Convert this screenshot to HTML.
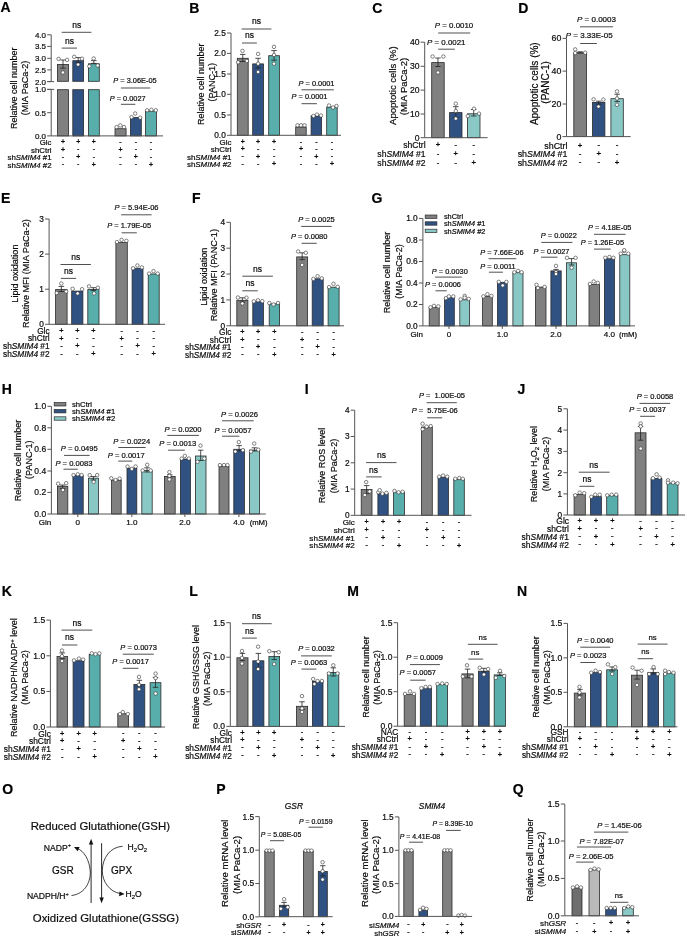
<!DOCTYPE html>
<html><head><meta charset="utf-8"><style>
html,body{margin:0;padding:0;background:#fff;width:685px;height:936px;overflow:hidden}
svg{display:block;font-family:"Liberation Sans", sans-serif;filter:blur(0.35px)}
text{stroke:#000;stroke-width:0.2px}
</style></head><body>
<svg width="685" height="936" viewBox="0 0 685 936" font-family='"Liberation Sans", sans-serif'>
<rect width="685" height="936" fill="#fff"/>
<text x="0.50" y="11.50" font-size="14" font-weight="bold" fill="#000">A</text>
<line x1="51.20" y1="34.80" x2="51.20" y2="81.60" stroke="#555" stroke-width="1"/>
<line x1="47.20" y1="34.80" x2="51.20" y2="34.80" stroke="#555" stroke-width="1"/>
<text x="46.00" y="37.70" font-size="8" text-anchor="end" fill="#111">4.0</text>
<line x1="47.20" y1="46.40" x2="51.20" y2="46.40" stroke="#555" stroke-width="1"/>
<text x="46.00" y="49.30" font-size="8" text-anchor="end" fill="#111">3.5</text>
<line x1="47.20" y1="58.30" x2="51.20" y2="58.30" stroke="#555" stroke-width="1"/>
<text x="46.00" y="61.20" font-size="8" text-anchor="end" fill="#111">3.0</text>
<line x1="47.20" y1="69.90" x2="51.20" y2="69.90" stroke="#555" stroke-width="1"/>
<text x="46.00" y="72.80" font-size="8" text-anchor="end" fill="#111">2.5</text>
<line x1="47.20" y1="81.60" x2="51.20" y2="81.60" stroke="#555" stroke-width="1"/>
<text x="46.00" y="84.50" font-size="8" text-anchor="end" fill="#111">2.0</text>
<line x1="47.20" y1="81.60" x2="54.20" y2="81.60" stroke="#555" stroke-width="1"/>
<line x1="51.20" y1="89.40" x2="51.20" y2="135.90" stroke="#555" stroke-width="1"/>
<line x1="47.20" y1="89.40" x2="51.20" y2="89.40" stroke="#555" stroke-width="1"/>
<text x="46.00" y="92.30" font-size="8" text-anchor="end" fill="#111">1.0</text>
<line x1="47.20" y1="112.70" x2="51.20" y2="112.70" stroke="#555" stroke-width="1"/>
<text x="46.00" y="115.60" font-size="8" text-anchor="end" fill="#111">0.5</text>
<line x1="47.20" y1="135.90" x2="51.20" y2="135.90" stroke="#555" stroke-width="1"/>
<text x="46.00" y="138.80" font-size="8" text-anchor="end" fill="#111">0.0</text>
<line x1="47.20" y1="89.40" x2="54.20" y2="89.40" stroke="#555" stroke-width="1"/>
<text x="16.95" y="88.30" font-size="9.0" text-anchor="middle" transform="rotate(-90 16.95 88.30)" fill="#111">Relative cell number</text>
<text x="27.65" y="88.00" font-size="9.0" text-anchor="middle" transform="rotate(-90 27.65 88.00)" fill="#111">(MIA PaCa-2)</text>
<rect x="57.50" y="64.50" width="11.00" height="16.80" fill="#808080" stroke="#2a2a2a" stroke-width="0.8"/>
<rect x="57.50" y="89.70" width="11.00" height="46.20" fill="#808080" stroke="#2a2a2a" stroke-width="0.8"/>
<rect x="72.80" y="60.70" width="10.80" height="20.60" fill="#2f5283" stroke="#2a2a2a" stroke-width="0.8"/>
<rect x="72.80" y="89.70" width="10.80" height="46.20" fill="#2f5283" stroke="#2a2a2a" stroke-width="0.8"/>
<rect x="88.40" y="63.80" width="10.90" height="17.50" fill="#58aeab" stroke="#2a2a2a" stroke-width="0.8"/>
<rect x="88.40" y="89.70" width="10.90" height="46.20" fill="#58aeab" stroke="#2a2a2a" stroke-width="0.8"/>
<line x1="63.00" y1="60.00" x2="63.00" y2="68.20" stroke="#222" stroke-width="0.8"/>
<line x1="60.25" y1="60.00" x2="65.75" y2="60.00" stroke="#222" stroke-width="0.8"/>
<line x1="60.25" y1="68.20" x2="65.75" y2="68.20" stroke="#222" stroke-width="0.8"/>
<circle cx="58.60" cy="58.90" r="1.75" fill="#fff" stroke="#333" stroke-width="0.6"/>
<circle cx="67.10" cy="59.90" r="1.75" fill="#fff" stroke="#333" stroke-width="0.6"/>
<circle cx="62.90" cy="72.50" r="1.75" fill="#fff" stroke="#333" stroke-width="0.6"/>
<line x1="78.20" y1="57.60" x2="78.20" y2="62.50" stroke="#222" stroke-width="0.8"/>
<line x1="75.45" y1="57.60" x2="80.95" y2="57.60" stroke="#222" stroke-width="0.8"/>
<line x1="75.45" y1="62.50" x2="80.95" y2="62.50" stroke="#222" stroke-width="0.8"/>
<circle cx="74.20" cy="56.80" r="1.75" fill="#fff" stroke="#333" stroke-width="0.6"/>
<circle cx="82.00" cy="58.70" r="1.75" fill="#fff" stroke="#333" stroke-width="0.6"/>
<circle cx="78.10" cy="64.60" r="1.75" fill="#fff" stroke="#333" stroke-width="0.6"/>
<line x1="93.80" y1="60.60" x2="93.80" y2="63.40" stroke="#222" stroke-width="0.8"/>
<line x1="91.05" y1="60.60" x2="96.55" y2="60.60" stroke="#222" stroke-width="0.8"/>
<line x1="91.05" y1="63.40" x2="96.55" y2="63.40" stroke="#222" stroke-width="0.8"/>
<circle cx="93.70" cy="58.50" r="1.75" fill="#fff" stroke="#333" stroke-width="0.6"/>
<circle cx="89.30" cy="66.30" r="1.75" fill="#fff" stroke="#333" stroke-width="0.6"/>
<circle cx="97.70" cy="65.50" r="1.75" fill="#fff" stroke="#333" stroke-width="0.6"/>
<rect x="115.00" y="128.70" width="11.10" height="7.20" fill="#808080" stroke="#2a2a2a" stroke-width="0.8"/>
<rect x="130.40" y="117.60" width="10.90" height="18.30" fill="#2f5283" stroke="#2a2a2a" stroke-width="0.8"/>
<rect x="145.50" y="111.00" width="10.90" height="24.90" fill="#58aeab" stroke="#2a2a2a" stroke-width="0.8"/>
<circle cx="116.60" cy="127.10" r="1.75" fill="#fff" stroke="#333" stroke-width="0.6"/>
<circle cx="120.30" cy="125.40" r="1.75" fill="#fff" stroke="#333" stroke-width="0.6"/>
<circle cx="124.00" cy="127.10" r="1.75" fill="#fff" stroke="#333" stroke-width="0.6"/>
<circle cx="131.50" cy="117.20" r="1.75" fill="#fff" stroke="#333" stroke-width="0.6"/>
<circle cx="135.20" cy="113.50" r="1.75" fill="#fff" stroke="#333" stroke-width="0.6"/>
<circle cx="140.20" cy="117.70" r="1.75" fill="#fff" stroke="#333" stroke-width="0.6"/>
<circle cx="147.10" cy="110.30" r="1.75" fill="#fff" stroke="#333" stroke-width="0.6"/>
<circle cx="151.40" cy="109.80" r="1.75" fill="#fff" stroke="#333" stroke-width="0.6"/>
<circle cx="155.80" cy="110.30" r="1.75" fill="#fff" stroke="#333" stroke-width="0.6"/>
<line x1="51.20" y1="135.90" x2="163.00" y2="135.90" stroke="#555" stroke-width="1"/>
<line x1="61.70" y1="32.30" x2="91.40" y2="32.30" stroke="#303030" stroke-width="0.85"/>
<text x="76.70" y="27.80" font-size="8.5" text-anchor="middle" fill="#111">ns</text>
<line x1="61.70" y1="48.10" x2="77.00" y2="48.10" stroke="#303030" stroke-width="0.85"/>
<text x="69.40" y="43.50" font-size="8.5" text-anchor="middle" fill="#111">ns</text>
<line x1="120.90" y1="88.00" x2="150.30" y2="88.00" stroke="#303030" stroke-width="0.85"/>
<text x="135.00" y="83.00" font-size="7.4" text-anchor="middle" fill="#111"><tspan font-style="italic">P</tspan> = 3.06E-05</text>
<line x1="120.90" y1="104.30" x2="135.30" y2="104.30" stroke="#303030" stroke-width="0.85"/>
<text x="127.70" y="100.60" font-size="7.4" text-anchor="middle" fill="#111"><tspan font-style="italic">P</tspan> = 0.0027</text>
<text x="51.50" y="145.20" font-size="7.85" text-anchor="end" fill="#111">Glc</text>
<text x="63.00" y="144.30" font-size="6.9079999999999995" text-anchor="middle" fill="#111" style="stroke-width:0.3px">+</text>
<text x="78.20" y="144.30" font-size="6.9079999999999995" text-anchor="middle" fill="#111" style="stroke-width:0.3px">+</text>
<text x="93.80" y="144.30" font-size="6.9079999999999995" text-anchor="middle" fill="#111" style="stroke-width:0.3px">+</text>
<text x="120.50" y="143.90" font-size="6.9079999999999995" text-anchor="middle" fill="#111" style="stroke-width:0.3px">-</text>
<text x="135.80" y="143.90" font-size="6.9079999999999995" text-anchor="middle" fill="#111" style="stroke-width:0.3px">-</text>
<text x="151.00" y="143.90" font-size="6.9079999999999995" text-anchor="middle" fill="#111" style="stroke-width:0.3px">-</text>
<text x="51.50" y="152.60" font-size="7.85" text-anchor="end" fill="#111">shCtrl</text>
<text x="63.00" y="151.70" font-size="6.9079999999999995" text-anchor="middle" fill="#111" style="stroke-width:0.3px">+</text>
<text x="78.20" y="151.30" font-size="6.9079999999999995" text-anchor="middle" fill="#111" style="stroke-width:0.3px">-</text>
<text x="93.80" y="151.30" font-size="6.9079999999999995" text-anchor="middle" fill="#111" style="stroke-width:0.3px">-</text>
<text x="120.50" y="151.70" font-size="6.9079999999999995" text-anchor="middle" fill="#111" style="stroke-width:0.3px">+</text>
<text x="135.80" y="151.30" font-size="6.9079999999999995" text-anchor="middle" fill="#111" style="stroke-width:0.3px">-</text>
<text x="151.00" y="151.30" font-size="6.9079999999999995" text-anchor="middle" fill="#111" style="stroke-width:0.3px">-</text>
<text x="51.50" y="160.10" font-size="7.85" text-anchor="end" fill="#111">sh<tspan font-style="italic">SMIM4</tspan> #1</text>
<text x="63.00" y="158.80" font-size="6.9079999999999995" text-anchor="middle" fill="#111" style="stroke-width:0.3px">-</text>
<text x="78.20" y="159.20" font-size="6.9079999999999995" text-anchor="middle" fill="#111" style="stroke-width:0.3px">+</text>
<text x="93.80" y="158.80" font-size="6.9079999999999995" text-anchor="middle" fill="#111" style="stroke-width:0.3px">-</text>
<text x="120.50" y="158.80" font-size="6.9079999999999995" text-anchor="middle" fill="#111" style="stroke-width:0.3px">-</text>
<text x="135.80" y="159.20" font-size="6.9079999999999995" text-anchor="middle" fill="#111" style="stroke-width:0.3px">+</text>
<text x="151.00" y="158.80" font-size="6.9079999999999995" text-anchor="middle" fill="#111" style="stroke-width:0.3px">-</text>
<text x="51.50" y="167.50" font-size="7.85" text-anchor="end" fill="#111">sh<tspan font-style="italic">SMIM4</tspan> #2</text>
<text x="63.00" y="166.20" font-size="6.9079999999999995" text-anchor="middle" fill="#111" style="stroke-width:0.3px">-</text>
<text x="78.20" y="166.20" font-size="6.9079999999999995" text-anchor="middle" fill="#111" style="stroke-width:0.3px">-</text>
<text x="93.80" y="166.60" font-size="6.9079999999999995" text-anchor="middle" fill="#111" style="stroke-width:0.3px">+</text>
<text x="120.50" y="166.20" font-size="6.9079999999999995" text-anchor="middle" fill="#111" style="stroke-width:0.3px">-</text>
<text x="135.80" y="166.20" font-size="6.9079999999999995" text-anchor="middle" fill="#111" style="stroke-width:0.3px">-</text>
<text x="151.00" y="166.60" font-size="6.9079999999999995" text-anchor="middle" fill="#111" style="stroke-width:0.3px">+</text>
<text x="189.20" y="12.50" font-size="14" font-weight="bold" fill="#000">B</text>
<line x1="231.00" y1="33.00" x2="231.00" y2="135.30" stroke="#555" stroke-width="1"/>
<line x1="227.00" y1="33.00" x2="231.00" y2="33.00" stroke="#555" stroke-width="1"/>
<text x="225.80" y="35.90" font-size="8.3" text-anchor="end" fill="#111">2.5</text>
<line x1="227.00" y1="53.40" x2="231.00" y2="53.40" stroke="#555" stroke-width="1"/>
<text x="225.80" y="56.30" font-size="8.3" text-anchor="end" fill="#111">2.0</text>
<line x1="227.00" y1="74.00" x2="231.00" y2="74.00" stroke="#555" stroke-width="1"/>
<text x="225.80" y="76.90" font-size="8.3" text-anchor="end" fill="#111">1.5</text>
<line x1="227.00" y1="94.30" x2="231.00" y2="94.30" stroke="#555" stroke-width="1"/>
<text x="225.80" y="97.20" font-size="8.3" text-anchor="end" fill="#111">1.0</text>
<line x1="227.00" y1="115.00" x2="231.00" y2="115.00" stroke="#555" stroke-width="1"/>
<text x="225.80" y="117.90" font-size="8.3" text-anchor="end" fill="#111">0.5</text>
<line x1="227.00" y1="135.30" x2="231.00" y2="135.30" stroke="#555" stroke-width="1"/>
<text x="225.80" y="138.20" font-size="8.3" text-anchor="end" fill="#111">0.0</text>
<text x="204.15" y="84.30" font-size="9.0" text-anchor="middle" transform="rotate(-90 204.15 84.30)" fill="#111">Relative cell number</text>
<text x="214.95" y="82.20" font-size="9.0" text-anchor="middle" transform="rotate(-90 214.95 82.20)" fill="#111">(PANC-1)</text>
<rect x="237.30" y="58.30" width="10.90" height="77.00" fill="#808080" stroke="#2a2a2a" stroke-width="0.8"/>
<rect x="252.70" y="63.90" width="10.80" height="71.40" fill="#2f5283" stroke="#2a2a2a" stroke-width="0.8"/>
<rect x="268.70" y="55.70" width="10.70" height="79.60" fill="#58aeab" stroke="#2a2a2a" stroke-width="0.8"/>
<rect x="295.70" y="127.00" width="10.50" height="8.30" fill="#808080" stroke="#2a2a2a" stroke-width="0.8"/>
<rect x="311.10" y="115.80" width="10.50" height="19.50" fill="#2f5283" stroke="#2a2a2a" stroke-width="0.8"/>
<rect x="326.70" y="107.10" width="10.50" height="28.20" fill="#58aeab" stroke="#2a2a2a" stroke-width="0.8"/>
<line x1="242.75" y1="54.40" x2="242.75" y2="61.50" stroke="#222" stroke-width="0.8"/>
<line x1="240.00" y1="54.40" x2="245.50" y2="54.40" stroke="#222" stroke-width="0.8"/>
<line x1="240.00" y1="61.50" x2="245.50" y2="61.50" stroke="#222" stroke-width="0.8"/>
<circle cx="242.50" cy="50.90" r="1.75" fill="#fff" stroke="#333" stroke-width="0.6"/>
<circle cx="238.10" cy="62.30" r="1.75" fill="#fff" stroke="#333" stroke-width="0.6"/>
<circle cx="246.90" cy="60.90" r="1.75" fill="#fff" stroke="#333" stroke-width="0.6"/>
<line x1="258.10" y1="58.30" x2="258.10" y2="67.90" stroke="#222" stroke-width="0.8"/>
<line x1="255.35" y1="58.30" x2="260.85" y2="58.30" stroke="#222" stroke-width="0.8"/>
<line x1="255.35" y1="67.90" x2="260.85" y2="67.90" stroke="#222" stroke-width="0.8"/>
<circle cx="258.10" cy="53.90" r="1.75" fill="#fff" stroke="#333" stroke-width="0.6"/>
<circle cx="258.10" cy="63.70" r="1.75" fill="#fff" stroke="#333" stroke-width="0.6"/>
<circle cx="258.10" cy="71.90" r="1.75" fill="#fff" stroke="#333" stroke-width="0.6"/>
<line x1="274.05" y1="50.60" x2="274.05" y2="60.20" stroke="#222" stroke-width="0.8"/>
<line x1="271.30" y1="50.60" x2="276.80" y2="50.60" stroke="#222" stroke-width="0.8"/>
<line x1="271.30" y1="60.20" x2="276.80" y2="60.20" stroke="#222" stroke-width="0.8"/>
<circle cx="274.00" cy="46.90" r="1.75" fill="#fff" stroke="#333" stroke-width="0.6"/>
<circle cx="274.00" cy="55.00" r="1.75" fill="#fff" stroke="#333" stroke-width="0.6"/>
<circle cx="274.00" cy="63.70" r="1.75" fill="#fff" stroke="#333" stroke-width="0.6"/>
<circle cx="297.50" cy="125.30" r="1.75" fill="#fff" stroke="#333" stroke-width="0.6"/>
<circle cx="301.00" cy="125.30" r="1.75" fill="#fff" stroke="#333" stroke-width="0.6"/>
<circle cx="304.50" cy="125.30" r="1.75" fill="#fff" stroke="#333" stroke-width="0.6"/>
<circle cx="313.50" cy="116.00" r="1.75" fill="#fff" stroke="#333" stroke-width="0.6"/>
<circle cx="317.00" cy="114.60" r="1.75" fill="#fff" stroke="#333" stroke-width="0.6"/>
<circle cx="321.00" cy="115.50" r="1.75" fill="#fff" stroke="#333" stroke-width="0.6"/>
<circle cx="329.00" cy="105.50" r="1.75" fill="#fff" stroke="#333" stroke-width="0.6"/>
<circle cx="333.00" cy="107.50" r="1.75" fill="#fff" stroke="#333" stroke-width="0.6"/>
<circle cx="336.50" cy="106.00" r="1.75" fill="#fff" stroke="#333" stroke-width="0.6"/>
<line x1="231.00" y1="135.30" x2="341.00" y2="135.30" stroke="#555" stroke-width="1"/>
<line x1="241.60" y1="29.00" x2="271.40" y2="29.00" stroke="#303030" stroke-width="0.85"/>
<text x="256.50" y="24.30" font-size="8.5" text-anchor="middle" fill="#111">ns</text>
<line x1="242.00" y1="43.00" x2="256.90" y2="43.00" stroke="#303030" stroke-width="0.85"/>
<text x="249.50" y="38.30" font-size="8.5" text-anchor="middle" fill="#111">ns</text>
<line x1="301.50" y1="89.80" x2="333.80" y2="89.80" stroke="#303030" stroke-width="0.85"/>
<text x="316.50" y="86.00" font-size="7.4" text-anchor="middle" fill="#111"><tspan font-style="italic">P</tspan> = 0.0001</text>
<line x1="301.50" y1="103.70" x2="316.90" y2="103.70" stroke="#303030" stroke-width="0.85"/>
<text x="309.50" y="99.20" font-size="7.4" text-anchor="middle" fill="#111"><tspan font-style="italic">P</tspan> = 0.0001</text>
<text x="231.50" y="144.90" font-size="7.95" text-anchor="end" fill="#111">Glc</text>
<text x="242.75" y="144.00" font-size="6.996" text-anchor="middle" fill="#111" style="stroke-width:0.3px">+</text>
<text x="258.10" y="144.00" font-size="6.996" text-anchor="middle" fill="#111" style="stroke-width:0.3px">+</text>
<text x="274.05" y="144.00" font-size="6.996" text-anchor="middle" fill="#111" style="stroke-width:0.3px">+</text>
<text x="300.95" y="143.60" font-size="6.996" text-anchor="middle" fill="#111" style="stroke-width:0.3px">-</text>
<text x="316.35" y="143.60" font-size="6.996" text-anchor="middle" fill="#111" style="stroke-width:0.3px">-</text>
<text x="331.95" y="143.60" font-size="6.996" text-anchor="middle" fill="#111" style="stroke-width:0.3px">-</text>
<text x="231.50" y="152.30" font-size="7.95" text-anchor="end" fill="#111">shCtrl</text>
<text x="242.75" y="151.40" font-size="6.996" text-anchor="middle" fill="#111" style="stroke-width:0.3px">+</text>
<text x="258.10" y="151.00" font-size="6.996" text-anchor="middle" fill="#111" style="stroke-width:0.3px">-</text>
<text x="274.05" y="151.00" font-size="6.996" text-anchor="middle" fill="#111" style="stroke-width:0.3px">-</text>
<text x="300.95" y="151.40" font-size="6.996" text-anchor="middle" fill="#111" style="stroke-width:0.3px">+</text>
<text x="316.35" y="151.00" font-size="6.996" text-anchor="middle" fill="#111" style="stroke-width:0.3px">-</text>
<text x="331.95" y="151.00" font-size="6.996" text-anchor="middle" fill="#111" style="stroke-width:0.3px">-</text>
<text x="231.50" y="159.70" font-size="7.95" text-anchor="end" fill="#111">sh<tspan font-style="italic">SMIM4</tspan> #1</text>
<text x="242.75" y="158.40" font-size="6.996" text-anchor="middle" fill="#111" style="stroke-width:0.3px">-</text>
<text x="258.10" y="158.80" font-size="6.996" text-anchor="middle" fill="#111" style="stroke-width:0.3px">+</text>
<text x="274.05" y="158.40" font-size="6.996" text-anchor="middle" fill="#111" style="stroke-width:0.3px">-</text>
<text x="300.95" y="158.40" font-size="6.996" text-anchor="middle" fill="#111" style="stroke-width:0.3px">-</text>
<text x="316.35" y="158.80" font-size="6.996" text-anchor="middle" fill="#111" style="stroke-width:0.3px">+</text>
<text x="331.95" y="158.40" font-size="6.996" text-anchor="middle" fill="#111" style="stroke-width:0.3px">-</text>
<text x="231.50" y="167.20" font-size="7.95" text-anchor="end" fill="#111">sh<tspan font-style="italic">SMIM4</tspan> #2</text>
<text x="242.75" y="165.90" font-size="6.996" text-anchor="middle" fill="#111" style="stroke-width:0.3px">-</text>
<text x="258.10" y="165.90" font-size="6.996" text-anchor="middle" fill="#111" style="stroke-width:0.3px">-</text>
<text x="274.05" y="166.30" font-size="6.996" text-anchor="middle" fill="#111" style="stroke-width:0.3px">+</text>
<text x="300.95" y="165.90" font-size="6.996" text-anchor="middle" fill="#111" style="stroke-width:0.3px">-</text>
<text x="316.35" y="165.90" font-size="6.996" text-anchor="middle" fill="#111" style="stroke-width:0.3px">-</text>
<text x="331.95" y="166.30" font-size="6.996" text-anchor="middle" fill="#111" style="stroke-width:0.3px">+</text>
<text x="372.30" y="12.50" font-size="14" font-weight="bold" fill="#000">C</text>
<line x1="424.70" y1="42.20" x2="424.70" y2="137.70" stroke="#555" stroke-width="1"/>
<line x1="420.70" y1="42.20" x2="424.70" y2="42.20" stroke="#555" stroke-width="1"/>
<text x="419.50" y="45.10" font-size="8.6" text-anchor="end" fill="#111">40</text>
<line x1="420.70" y1="66.30" x2="424.70" y2="66.30" stroke="#555" stroke-width="1"/>
<text x="419.50" y="69.20" font-size="8.6" text-anchor="end" fill="#111">30</text>
<line x1="420.70" y1="90.10" x2="424.70" y2="90.10" stroke="#555" stroke-width="1"/>
<text x="419.50" y="93.00" font-size="8.6" text-anchor="end" fill="#111">20</text>
<line x1="420.70" y1="114.00" x2="424.70" y2="114.00" stroke="#555" stroke-width="1"/>
<text x="419.50" y="116.90" font-size="8.6" text-anchor="end" fill="#111">10</text>
<line x1="420.70" y1="137.70" x2="424.70" y2="137.70" stroke="#555" stroke-width="1"/>
<text x="419.50" y="140.60" font-size="8.6" text-anchor="end" fill="#111">0</text>
<text x="396.22" y="85.60" font-size="9.5" text-anchor="middle" transform="rotate(-90 396.22 85.60)" fill="#111">Apoptotic cells (%)</text>
<text x="406.62" y="86.50" font-size="9.5" text-anchor="middle" transform="rotate(-90 406.62 86.50)" fill="#111">(MIA PaCa-2)</text>
<rect x="431.70" y="62.60" width="12.50" height="75.10" fill="#808080" stroke="#2a2a2a" stroke-width="0.8"/>
<rect x="449.60" y="112.60" width="12.40" height="25.10" fill="#2f5283" stroke="#2a2a2a" stroke-width="0.8"/>
<rect x="467.40" y="113.80" width="12.60" height="23.90" fill="#8ac8c6" stroke="#2a2a2a" stroke-width="0.8"/>
<line x1="437.95" y1="58.00" x2="437.95" y2="66.50" stroke="#222" stroke-width="0.8"/>
<line x1="435.20" y1="58.00" x2="440.70" y2="58.00" stroke="#222" stroke-width="0.8"/>
<line x1="435.20" y1="66.50" x2="440.70" y2="66.50" stroke="#222" stroke-width="0.8"/>
<circle cx="432.60" cy="56.50" r="1.75" fill="#fff" stroke="#333" stroke-width="0.6"/>
<circle cx="443.40" cy="56.50" r="1.75" fill="#fff" stroke="#333" stroke-width="0.6"/>
<circle cx="438.00" cy="72.50" r="1.75" fill="#fff" stroke="#333" stroke-width="0.6"/>
<line x1="455.80" y1="106.70" x2="455.80" y2="117.50" stroke="#222" stroke-width="0.8"/>
<line x1="453.05" y1="106.70" x2="458.55" y2="106.70" stroke="#222" stroke-width="0.8"/>
<line x1="453.05" y1="117.50" x2="458.55" y2="117.50" stroke="#222" stroke-width="0.8"/>
<circle cx="455.80" cy="103.70" r="1.75" fill="#fff" stroke="#333" stroke-width="0.6"/>
<circle cx="455.80" cy="111.00" r="1.75" fill="#fff" stroke="#333" stroke-width="0.6"/>
<circle cx="455.80" cy="118.60" r="1.75" fill="#fff" stroke="#333" stroke-width="0.6"/>
<line x1="473.70" y1="109.50" x2="473.70" y2="116.00" stroke="#222" stroke-width="0.8"/>
<line x1="470.95" y1="109.50" x2="476.45" y2="109.50" stroke="#222" stroke-width="0.8"/>
<line x1="470.95" y1="116.00" x2="476.45" y2="116.00" stroke="#222" stroke-width="0.8"/>
<circle cx="467.80" cy="116.10" r="1.75" fill="#fff" stroke="#333" stroke-width="0.6"/>
<circle cx="474.00" cy="108.70" r="1.75" fill="#fff" stroke="#333" stroke-width="0.6"/>
<circle cx="479.00" cy="113.60" r="1.75" fill="#fff" stroke="#333" stroke-width="0.6"/>
<line x1="424.70" y1="137.70" x2="487.60" y2="137.70" stroke="#555" stroke-width="1"/>
<line x1="438.20" y1="33.00" x2="470.20" y2="33.00" stroke="#303030" stroke-width="0.85"/>
<text x="454.00" y="28.40" font-size="7.9" text-anchor="middle" fill="#111"><tspan font-style="italic">P</tspan> = 0.0010</text>
<line x1="438.20" y1="49.20" x2="454.80" y2="49.20" stroke="#303030" stroke-width="0.85"/>
<text x="446.30" y="44.50" font-size="7.9" text-anchor="middle" fill="#111"><tspan font-style="italic">P</tspan> = 0.0021</text>
<text x="425.60" y="148.10" font-size="8.6" text-anchor="end" fill="#111">shCtrl</text>
<text x="437.95" y="147.20" font-size="7.568" text-anchor="middle" fill="#111" style="stroke-width:0.3px">+</text>
<text x="455.80" y="146.80" font-size="7.568" text-anchor="middle" fill="#111" style="stroke-width:0.3px">-</text>
<text x="473.70" y="146.80" font-size="7.568" text-anchor="middle" fill="#111" style="stroke-width:0.3px">-</text>
<text x="425.60" y="157.20" font-size="8.6" text-anchor="end" fill="#111">sh<tspan font-style="italic">SMIM4</tspan> #1</text>
<text x="437.95" y="155.90" font-size="7.568" text-anchor="middle" fill="#111" style="stroke-width:0.3px">-</text>
<text x="455.80" y="156.30" font-size="7.568" text-anchor="middle" fill="#111" style="stroke-width:0.3px">+</text>
<text x="473.70" y="155.90" font-size="7.568" text-anchor="middle" fill="#111" style="stroke-width:0.3px">-</text>
<text x="425.60" y="165.90" font-size="8.6" text-anchor="end" fill="#111">sh<tspan font-style="italic">SMIM4</tspan> #2</text>
<text x="437.95" y="164.60" font-size="7.568" text-anchor="middle" fill="#111" style="stroke-width:0.3px">-</text>
<text x="455.80" y="164.60" font-size="7.568" text-anchor="middle" fill="#111" style="stroke-width:0.3px">-</text>
<text x="473.70" y="165.00" font-size="7.568" text-anchor="middle" fill="#111" style="stroke-width:0.3px">+</text>
<text x="518.30" y="12.50" font-size="14" font-weight="bold" fill="#000">D</text>
<line x1="566.50" y1="38.40" x2="566.50" y2="136.60" stroke="#555" stroke-width="1"/>
<line x1="562.50" y1="38.40" x2="566.50" y2="38.40" stroke="#555" stroke-width="1"/>
<text x="561.30" y="41.30" font-size="8.8" text-anchor="end" fill="#111">60</text>
<line x1="562.50" y1="71.10" x2="566.50" y2="71.10" stroke="#555" stroke-width="1"/>
<text x="561.30" y="74.00" font-size="8.8" text-anchor="end" fill="#111">40</text>
<line x1="562.50" y1="104.00" x2="566.50" y2="104.00" stroke="#555" stroke-width="1"/>
<text x="561.30" y="106.90" font-size="8.8" text-anchor="end" fill="#111">20</text>
<line x1="562.50" y1="136.60" x2="566.50" y2="136.60" stroke="#555" stroke-width="1"/>
<text x="561.30" y="139.50" font-size="8.8" text-anchor="end" fill="#111">0</text>
<text x="537.80" y="83.70" font-size="10" text-anchor="middle" transform="rotate(-90 537.80 83.70)" fill="#111">Apoptotic cells (%)</text>
<text x="549.30" y="82.40" font-size="10" text-anchor="middle" transform="rotate(-90 549.30 82.40)" fill="#111">(PANC-1)</text>
<rect x="573.80" y="52.80" width="12.70" height="83.80" fill="#808080" stroke="#2a2a2a" stroke-width="0.8"/>
<rect x="592.50" y="102.40" width="12.40" height="34.20" fill="#2f5283" stroke="#2a2a2a" stroke-width="0.8"/>
<rect x="610.90" y="98.70" width="12.40" height="37.90" fill="#8ac8c6" stroke="#2a2a2a" stroke-width="0.8"/>
<line x1="580.15" y1="51.80" x2="580.15" y2="53.00" stroke="#222" stroke-width="0.8"/>
<line x1="577.40" y1="51.80" x2="582.90" y2="51.80" stroke="#222" stroke-width="0.8"/>
<line x1="577.40" y1="53.00" x2="582.90" y2="53.00" stroke="#222" stroke-width="0.8"/>
<circle cx="575.20" cy="49.40" r="1.75" fill="#fff" stroke="#333" stroke-width="0.6"/>
<circle cx="575.20" cy="53.10" r="1.75" fill="#fff" stroke="#333" stroke-width="0.6"/>
<circle cx="585.20" cy="52.70" r="1.75" fill="#fff" stroke="#333" stroke-width="0.6"/>
<line x1="598.70" y1="101.20" x2="598.70" y2="104.20" stroke="#222" stroke-width="0.8"/>
<line x1="595.95" y1="101.20" x2="601.45" y2="101.20" stroke="#222" stroke-width="0.8"/>
<line x1="595.95" y1="104.20" x2="601.45" y2="104.20" stroke="#222" stroke-width="0.8"/>
<circle cx="593.60" cy="99.30" r="1.75" fill="#fff" stroke="#333" stroke-width="0.6"/>
<circle cx="603.40" cy="99.60" r="1.75" fill="#fff" stroke="#333" stroke-width="0.6"/>
<circle cx="598.50" cy="106.60" r="1.75" fill="#fff" stroke="#333" stroke-width="0.6"/>
<line x1="617.10" y1="94.20" x2="617.10" y2="101.60" stroke="#222" stroke-width="0.8"/>
<line x1="614.35" y1="94.20" x2="619.85" y2="94.20" stroke="#222" stroke-width="0.8"/>
<line x1="614.35" y1="101.60" x2="619.85" y2="101.60" stroke="#222" stroke-width="0.8"/>
<circle cx="617.00" cy="91.40" r="1.75" fill="#fff" stroke="#333" stroke-width="0.6"/>
<circle cx="617.00" cy="98.50" r="1.75" fill="#fff" stroke="#333" stroke-width="0.6"/>
<circle cx="617.00" cy="104.80" r="1.75" fill="#fff" stroke="#333" stroke-width="0.6"/>
<line x1="566.50" y1="136.60" x2="630.70" y2="136.60" stroke="#555" stroke-width="1"/>
<line x1="580.00" y1="26.80" x2="613.10" y2="26.80" stroke="#303030" stroke-width="0.85"/>
<text x="596.50" y="21.80" font-size="8.0" text-anchor="middle" fill="#111"><tspan font-style="italic">P</tspan> = 0.0003</text>
<line x1="580.20" y1="43.50" x2="596.90" y2="43.50" stroke="#303030" stroke-width="0.85"/>
<text x="589.20" y="38.10" font-size="8.0" text-anchor="middle" fill="#111"><tspan font-style="italic">P</tspan> = 3.33E-05</text>
<text x="567.50" y="148.50" font-size="8.9" text-anchor="end" fill="#111">shCtrl</text>
<text x="580.15" y="147.60" font-size="7.832000000000001" text-anchor="middle" fill="#111" style="stroke-width:0.3px">+</text>
<text x="598.70" y="147.20" font-size="7.832000000000001" text-anchor="middle" fill="#111" style="stroke-width:0.3px">-</text>
<text x="617.10" y="147.20" font-size="7.832000000000001" text-anchor="middle" fill="#111" style="stroke-width:0.3px">-</text>
<text x="567.50" y="156.80" font-size="8.9" text-anchor="end" fill="#111">sh<tspan font-style="italic">SMIM4</tspan> #1</text>
<text x="580.15" y="155.50" font-size="7.832000000000001" text-anchor="middle" fill="#111" style="stroke-width:0.3px">-</text>
<text x="598.70" y="155.90" font-size="7.832000000000001" text-anchor="middle" fill="#111" style="stroke-width:0.3px">+</text>
<text x="617.10" y="155.50" font-size="7.832000000000001" text-anchor="middle" fill="#111" style="stroke-width:0.3px">-</text>
<text x="567.50" y="165.50" font-size="8.9" text-anchor="end" fill="#111">sh<tspan font-style="italic">SMIM4</tspan> #2</text>
<text x="580.15" y="164.20" font-size="7.832000000000001" text-anchor="middle" fill="#111" style="stroke-width:0.3px">-</text>
<text x="598.70" y="164.20" font-size="7.832000000000001" text-anchor="middle" fill="#111" style="stroke-width:0.3px">-</text>
<text x="617.10" y="164.60" font-size="7.832000000000001" text-anchor="middle" fill="#111" style="stroke-width:0.3px">+</text>
<text x="1.00" y="203.00" font-size="14" font-weight="bold" fill="#000">E</text>
<line x1="49.10" y1="219.00" x2="49.10" y2="324.30" stroke="#555" stroke-width="1"/>
<line x1="45.10" y1="219.00" x2="49.10" y2="219.00" stroke="#555" stroke-width="1"/>
<text x="43.90" y="221.90" font-size="8.3" text-anchor="end" fill="#111">3</text>
<line x1="45.10" y1="254.10" x2="49.10" y2="254.10" stroke="#555" stroke-width="1"/>
<text x="43.90" y="257.00" font-size="8.3" text-anchor="end" fill="#111">2</text>
<line x1="45.10" y1="289.20" x2="49.10" y2="289.20" stroke="#555" stroke-width="1"/>
<text x="43.90" y="292.10" font-size="8.3" text-anchor="end" fill="#111">1</text>
<line x1="45.10" y1="324.30" x2="49.10" y2="324.30" stroke="#555" stroke-width="1"/>
<text x="43.90" y="327.20" font-size="8.3" text-anchor="end" fill="#111">0</text>
<text x="17.59" y="273.60" font-size="9.1" text-anchor="middle" transform="rotate(-90 17.59 273.60)" fill="#111">Lipid oxidation</text>
<text x="28.79" y="273.60" font-size="9.1" text-anchor="middle" transform="rotate(-90 28.79 273.60)" fill="#111">Relative MFI (MIA PaCa-2)</text>
<rect x="55.60" y="289.60" width="11.50" height="34.70" fill="#808080" stroke="#2a2a2a" stroke-width="0.8"/>
<rect x="71.70" y="291.10" width="11.20" height="33.20" fill="#2f5283" stroke="#2a2a2a" stroke-width="0.8"/>
<rect x="87.80" y="289.60" width="11.20" height="34.70" fill="#58aeab" stroke="#2a2a2a" stroke-width="0.8"/>
<rect x="115.90" y="242.50" width="11.40" height="81.80" fill="#808080" stroke="#2a2a2a" stroke-width="0.8"/>
<rect x="132.10" y="268.30" width="10.90" height="56.00" fill="#2f5283" stroke="#2a2a2a" stroke-width="0.8"/>
<rect x="148.20" y="274.00" width="11.00" height="50.30" fill="#58aeab" stroke="#2a2a2a" stroke-width="0.8"/>
<line x1="61.35" y1="286.40" x2="61.35" y2="291.50" stroke="#222" stroke-width="0.8"/>
<line x1="58.60" y1="286.40" x2="64.10" y2="286.40" stroke="#222" stroke-width="0.8"/>
<line x1="58.60" y1="291.50" x2="64.10" y2="291.50" stroke="#222" stroke-width="0.8"/>
<circle cx="61.30" cy="283.50" r="1.75" fill="#fff" stroke="#333" stroke-width="0.6"/>
<circle cx="56.70" cy="293.00" r="1.75" fill="#fff" stroke="#333" stroke-width="0.6"/>
<circle cx="66.20" cy="291.50" r="1.75" fill="#fff" stroke="#333" stroke-width="0.6"/>
<circle cx="72.60" cy="288.80" r="1.75" fill="#fff" stroke="#333" stroke-width="0.6"/>
<circle cx="77.60" cy="293.40" r="1.75" fill="#fff" stroke="#333" stroke-width="0.6"/>
<circle cx="82.10" cy="289.20" r="1.75" fill="#fff" stroke="#333" stroke-width="0.6"/>
<line x1="93.40" y1="287.70" x2="93.40" y2="290.50" stroke="#222" stroke-width="0.8"/>
<line x1="90.65" y1="287.70" x2="96.15" y2="287.70" stroke="#222" stroke-width="0.8"/>
<line x1="90.65" y1="290.50" x2="96.15" y2="290.50" stroke="#222" stroke-width="0.8"/>
<circle cx="89.00" cy="286.40" r="1.75" fill="#fff" stroke="#333" stroke-width="0.6"/>
<circle cx="94.10" cy="293.40" r="1.75" fill="#fff" stroke="#333" stroke-width="0.6"/>
<circle cx="97.90" cy="287.70" r="1.75" fill="#fff" stroke="#333" stroke-width="0.6"/>
<circle cx="116.90" cy="242.10" r="1.75" fill="#fff" stroke="#333" stroke-width="0.6"/>
<circle cx="121.60" cy="239.90" r="1.75" fill="#fff" stroke="#333" stroke-width="0.6"/>
<circle cx="126.40" cy="240.80" r="1.75" fill="#fff" stroke="#333" stroke-width="0.6"/>
<circle cx="133.00" cy="268.30" r="1.75" fill="#fff" stroke="#333" stroke-width="0.6"/>
<circle cx="137.40" cy="265.50" r="1.75" fill="#fff" stroke="#333" stroke-width="0.6"/>
<circle cx="141.90" cy="267.40" r="1.75" fill="#fff" stroke="#333" stroke-width="0.6"/>
<circle cx="149.10" cy="273.60" r="1.75" fill="#fff" stroke="#333" stroke-width="0.6"/>
<circle cx="153.50" cy="271.20" r="1.75" fill="#fff" stroke="#333" stroke-width="0.6"/>
<circle cx="157.70" cy="273.60" r="1.75" fill="#fff" stroke="#333" stroke-width="0.6"/>
<line x1="49.10" y1="324.30" x2="165.00" y2="324.30" stroke="#555" stroke-width="1"/>
<line x1="60.50" y1="264.50" x2="90.90" y2="264.50" stroke="#303030" stroke-width="0.85"/>
<text x="75.70" y="259.70" font-size="8.5" text-anchor="middle" fill="#111">ns</text>
<line x1="60.90" y1="278.40" x2="76.10" y2="278.40" stroke="#303030" stroke-width="0.85"/>
<text x="68.50" y="274.40" font-size="8.5" text-anchor="middle" fill="#111">ns</text>
<line x1="121.20" y1="214.80" x2="151.60" y2="214.80" stroke="#303030" stroke-width="0.85"/>
<text x="136.50" y="210.40" font-size="7.5" text-anchor="middle" fill="#111"><tspan font-style="italic">P</tspan> = 5.94E-06</text>
<line x1="121.60" y1="232.80" x2="136.80" y2="232.80" stroke="#303030" stroke-width="0.85"/>
<text x="129.20" y="228.00" font-size="7.5" text-anchor="middle" fill="#111"><tspan font-style="italic">P</tspan> = 1.79E-05</text>
<text x="49.60" y="333.90" font-size="8.3" text-anchor="end" fill="#111">Glc</text>
<text x="61.35" y="333.00" font-size="7.304" text-anchor="middle" fill="#111" style="stroke-width:0.3px">+</text>
<text x="77.30" y="333.00" font-size="7.304" text-anchor="middle" fill="#111" style="stroke-width:0.3px">+</text>
<text x="93.40" y="333.00" font-size="7.304" text-anchor="middle" fill="#111" style="stroke-width:0.3px">+</text>
<text x="121.60" y="332.60" font-size="7.304" text-anchor="middle" fill="#111" style="stroke-width:0.3px">-</text>
<text x="137.55" y="332.60" font-size="7.304" text-anchor="middle" fill="#111" style="stroke-width:0.3px">-</text>
<text x="153.70" y="332.60" font-size="7.304" text-anchor="middle" fill="#111" style="stroke-width:0.3px">-</text>
<text x="49.60" y="341.40" font-size="8.3" text-anchor="end" fill="#111">shCtrl</text>
<text x="61.35" y="340.50" font-size="7.304" text-anchor="middle" fill="#111" style="stroke-width:0.3px">+</text>
<text x="77.30" y="340.10" font-size="7.304" text-anchor="middle" fill="#111" style="stroke-width:0.3px">-</text>
<text x="93.40" y="340.10" font-size="7.304" text-anchor="middle" fill="#111" style="stroke-width:0.3px">-</text>
<text x="121.60" y="340.50" font-size="7.304" text-anchor="middle" fill="#111" style="stroke-width:0.3px">+</text>
<text x="137.55" y="340.10" font-size="7.304" text-anchor="middle" fill="#111" style="stroke-width:0.3px">-</text>
<text x="153.70" y="340.10" font-size="7.304" text-anchor="middle" fill="#111" style="stroke-width:0.3px">-</text>
<text x="49.60" y="349.10" font-size="8.3" text-anchor="end" fill="#111">sh<tspan font-style="italic">SMIM4</tspan> #1</text>
<text x="61.35" y="347.80" font-size="7.304" text-anchor="middle" fill="#111" style="stroke-width:0.3px">-</text>
<text x="77.30" y="348.20" font-size="7.304" text-anchor="middle" fill="#111" style="stroke-width:0.3px">+</text>
<text x="93.40" y="347.80" font-size="7.304" text-anchor="middle" fill="#111" style="stroke-width:0.3px">-</text>
<text x="121.60" y="347.80" font-size="7.304" text-anchor="middle" fill="#111" style="stroke-width:0.3px">-</text>
<text x="137.55" y="348.20" font-size="7.304" text-anchor="middle" fill="#111" style="stroke-width:0.3px">+</text>
<text x="153.70" y="347.80" font-size="7.304" text-anchor="middle" fill="#111" style="stroke-width:0.3px">-</text>
<text x="49.60" y="356.80" font-size="8.3" text-anchor="end" fill="#111">sh<tspan font-style="italic">SMIM4</tspan> #2</text>
<text x="61.35" y="355.50" font-size="7.304" text-anchor="middle" fill="#111" style="stroke-width:0.3px">-</text>
<text x="77.30" y="355.50" font-size="7.304" text-anchor="middle" fill="#111" style="stroke-width:0.3px">-</text>
<text x="93.40" y="355.90" font-size="7.304" text-anchor="middle" fill="#111" style="stroke-width:0.3px">+</text>
<text x="121.60" y="355.50" font-size="7.304" text-anchor="middle" fill="#111" style="stroke-width:0.3px">-</text>
<text x="137.55" y="355.50" font-size="7.304" text-anchor="middle" fill="#111" style="stroke-width:0.3px">-</text>
<text x="153.70" y="355.90" font-size="7.304" text-anchor="middle" fill="#111" style="stroke-width:0.3px">+</text>
<text x="192.10" y="203.00" font-size="14" font-weight="bold" fill="#000">F</text>
<line x1="230.40" y1="222.30" x2="230.40" y2="325.80" stroke="#555" stroke-width="1"/>
<line x1="226.40" y1="222.30" x2="230.40" y2="222.30" stroke="#555" stroke-width="1"/>
<text x="225.20" y="225.20" font-size="8.3" text-anchor="end" fill="#111">4</text>
<line x1="226.40" y1="248.20" x2="230.40" y2="248.20" stroke="#555" stroke-width="1"/>
<text x="225.20" y="251.10" font-size="8.3" text-anchor="end" fill="#111">3</text>
<line x1="226.40" y1="274.00" x2="230.40" y2="274.00" stroke="#555" stroke-width="1"/>
<text x="225.20" y="276.90" font-size="8.3" text-anchor="end" fill="#111">2</text>
<line x1="226.40" y1="299.90" x2="230.40" y2="299.90" stroke="#555" stroke-width="1"/>
<text x="225.20" y="302.80" font-size="8.3" text-anchor="end" fill="#111">1</text>
<line x1="226.40" y1="325.80" x2="230.40" y2="325.80" stroke="#555" stroke-width="1"/>
<text x="225.20" y="328.70" font-size="8.3" text-anchor="end" fill="#111">0</text>
<text x="206.69" y="276.70" font-size="9.1" text-anchor="middle" transform="rotate(-90 206.69 276.70)" fill="#111">Lipid oxidation</text>
<text x="217.38" y="275.20" font-size="9.1" text-anchor="middle" transform="rotate(-90 217.38 275.20)" fill="#111">Relative MFI (PANC-1)</text>
<rect x="236.80" y="300.30" width="11.10" height="25.50" fill="#808080" stroke="#2a2a2a" stroke-width="0.8"/>
<rect x="252.80" y="301.60" width="10.60" height="24.20" fill="#2f5283" stroke="#2a2a2a" stroke-width="0.8"/>
<rect x="269.20" y="303.90" width="10.40" height="21.90" fill="#58aeab" stroke="#2a2a2a" stroke-width="0.8"/>
<rect x="296.70" y="256.90" width="10.90" height="68.90" fill="#808080" stroke="#2a2a2a" stroke-width="0.8"/>
<rect x="312.20" y="278.80" width="11.00" height="47.00" fill="#2f5283" stroke="#2a2a2a" stroke-width="0.8"/>
<rect x="328.10" y="287.20" width="11.00" height="38.60" fill="#58aeab" stroke="#2a2a2a" stroke-width="0.8"/>
<line x1="242.35" y1="297.80" x2="242.35" y2="302.00" stroke="#222" stroke-width="0.8"/>
<line x1="239.60" y1="297.80" x2="245.10" y2="297.80" stroke="#222" stroke-width="0.8"/>
<line x1="239.60" y1="302.00" x2="245.10" y2="302.00" stroke="#222" stroke-width="0.8"/>
<circle cx="237.90" cy="297.50" r="1.75" fill="#fff" stroke="#333" stroke-width="0.6"/>
<circle cx="246.50" cy="297.70" r="1.75" fill="#fff" stroke="#333" stroke-width="0.6"/>
<circle cx="242.30" cy="303.50" r="1.75" fill="#fff" stroke="#333" stroke-width="0.6"/>
<circle cx="253.80" cy="301.40" r="1.75" fill="#fff" stroke="#333" stroke-width="0.6"/>
<circle cx="258.00" cy="300.30" r="1.75" fill="#fff" stroke="#333" stroke-width="0.6"/>
<circle cx="262.30" cy="301.20" r="1.75" fill="#fff" stroke="#333" stroke-width="0.6"/>
<circle cx="269.30" cy="303.00" r="1.75" fill="#fff" stroke="#333" stroke-width="0.6"/>
<circle cx="278.00" cy="303.00" r="1.75" fill="#fff" stroke="#333" stroke-width="0.6"/>
<circle cx="273.50" cy="304.50" r="1.75" fill="#fff" stroke="#333" stroke-width="0.6"/>
<line x1="302.15" y1="252.80" x2="302.15" y2="259.70" stroke="#222" stroke-width="0.8"/>
<line x1="299.40" y1="252.80" x2="304.90" y2="252.80" stroke="#222" stroke-width="0.8"/>
<line x1="299.40" y1="259.70" x2="304.90" y2="259.70" stroke="#222" stroke-width="0.8"/>
<circle cx="298.10" cy="251.50" r="1.75" fill="#fff" stroke="#333" stroke-width="0.6"/>
<circle cx="305.80" cy="252.80" r="1.75" fill="#fff" stroke="#333" stroke-width="0.6"/>
<circle cx="302.10" cy="264.90" r="1.75" fill="#fff" stroke="#333" stroke-width="0.6"/>
<circle cx="313.40" cy="278.90" r="1.75" fill="#fff" stroke="#333" stroke-width="0.6"/>
<circle cx="317.60" cy="276.20" r="1.75" fill="#fff" stroke="#333" stroke-width="0.6"/>
<circle cx="321.80" cy="278.40" r="1.75" fill="#fff" stroke="#333" stroke-width="0.6"/>
<circle cx="329.10" cy="287.10" r="1.75" fill="#fff" stroke="#333" stroke-width="0.6"/>
<circle cx="333.50" cy="283.80" r="1.75" fill="#fff" stroke="#333" stroke-width="0.6"/>
<circle cx="337.70" cy="286.80" r="1.75" fill="#fff" stroke="#333" stroke-width="0.6"/>
<line x1="230.40" y1="325.80" x2="344.00" y2="325.80" stroke="#555" stroke-width="1"/>
<line x1="242.30" y1="276.20" x2="272.90" y2="276.20" stroke="#303030" stroke-width="0.85"/>
<text x="257.40" y="271.70" font-size="8.5" text-anchor="middle" fill="#111">ns</text>
<line x1="242.30" y1="290.80" x2="257.80" y2="290.80" stroke="#303030" stroke-width="0.85"/>
<text x="250.10" y="286.30" font-size="8.5" text-anchor="middle" fill="#111">ns</text>
<line x1="301.20" y1="226.40" x2="331.70" y2="226.40" stroke="#303030" stroke-width="0.85"/>
<text x="316.50" y="221.60" font-size="7.5" text-anchor="middle" fill="#111"><tspan font-style="italic">P</tspan> = 0.0025</text>
<line x1="301.60" y1="243.30" x2="316.70" y2="243.30" stroke="#303030" stroke-width="0.85"/>
<text x="309.20" y="239.20" font-size="7.5" text-anchor="middle" fill="#111"><tspan font-style="italic">P</tspan> = 0.0080</text>
<text x="231.40" y="334.90" font-size="8.25" text-anchor="end" fill="#111">Glc</text>
<text x="242.35" y="334.00" font-size="7.26" text-anchor="middle" fill="#111" style="stroke-width:0.3px">+</text>
<text x="258.10" y="334.00" font-size="7.26" text-anchor="middle" fill="#111" style="stroke-width:0.3px">+</text>
<text x="274.40" y="334.00" font-size="7.26" text-anchor="middle" fill="#111" style="stroke-width:0.3px">+</text>
<text x="302.15" y="333.60" font-size="7.26" text-anchor="middle" fill="#111" style="stroke-width:0.3px">-</text>
<text x="317.70" y="333.60" font-size="7.26" text-anchor="middle" fill="#111" style="stroke-width:0.3px">-</text>
<text x="333.60" y="333.60" font-size="7.26" text-anchor="middle" fill="#111" style="stroke-width:0.3px">-</text>
<text x="231.40" y="342.50" font-size="8.25" text-anchor="end" fill="#111">shCtrl</text>
<text x="242.35" y="341.60" font-size="7.26" text-anchor="middle" fill="#111" style="stroke-width:0.3px">+</text>
<text x="258.10" y="341.20" font-size="7.26" text-anchor="middle" fill="#111" style="stroke-width:0.3px">-</text>
<text x="274.40" y="341.20" font-size="7.26" text-anchor="middle" fill="#111" style="stroke-width:0.3px">-</text>
<text x="302.15" y="341.60" font-size="7.26" text-anchor="middle" fill="#111" style="stroke-width:0.3px">+</text>
<text x="317.70" y="341.20" font-size="7.26" text-anchor="middle" fill="#111" style="stroke-width:0.3px">-</text>
<text x="333.60" y="341.20" font-size="7.26" text-anchor="middle" fill="#111" style="stroke-width:0.3px">-</text>
<text x="231.40" y="350.00" font-size="8.25" text-anchor="end" fill="#111">sh<tspan font-style="italic">SMIM4</tspan> #1</text>
<text x="242.35" y="348.70" font-size="7.26" text-anchor="middle" fill="#111" style="stroke-width:0.3px">-</text>
<text x="258.10" y="349.10" font-size="7.26" text-anchor="middle" fill="#111" style="stroke-width:0.3px">+</text>
<text x="274.40" y="348.70" font-size="7.26" text-anchor="middle" fill="#111" style="stroke-width:0.3px">-</text>
<text x="302.15" y="348.70" font-size="7.26" text-anchor="middle" fill="#111" style="stroke-width:0.3px">-</text>
<text x="317.70" y="349.10" font-size="7.26" text-anchor="middle" fill="#111" style="stroke-width:0.3px">+</text>
<text x="333.60" y="348.70" font-size="7.26" text-anchor="middle" fill="#111" style="stroke-width:0.3px">-</text>
<text x="231.40" y="357.70" font-size="8.25" text-anchor="end" fill="#111">sh<tspan font-style="italic">SMIM4</tspan> #2</text>
<text x="242.35" y="356.40" font-size="7.26" text-anchor="middle" fill="#111" style="stroke-width:0.3px">-</text>
<text x="258.10" y="356.40" font-size="7.26" text-anchor="middle" fill="#111" style="stroke-width:0.3px">-</text>
<text x="274.40" y="356.80" font-size="7.26" text-anchor="middle" fill="#111" style="stroke-width:0.3px">+</text>
<text x="302.15" y="356.40" font-size="7.26" text-anchor="middle" fill="#111" style="stroke-width:0.3px">-</text>
<text x="317.70" y="356.40" font-size="7.26" text-anchor="middle" fill="#111" style="stroke-width:0.3px">-</text>
<text x="333.60" y="356.80" font-size="7.26" text-anchor="middle" fill="#111" style="stroke-width:0.3px">+</text>
<text x="371.60" y="203.00" font-size="14" font-weight="bold" fill="#000">G</text>
<line x1="422.90" y1="218.40" x2="422.90" y2="325.90" stroke="#555" stroke-width="1"/>
<line x1="418.90" y1="218.40" x2="422.90" y2="218.40" stroke="#555" stroke-width="1"/>
<text x="417.70" y="221.30" font-size="8.3" text-anchor="end" fill="#111">1.0</text>
<line x1="418.90" y1="240.00" x2="422.90" y2="240.00" stroke="#555" stroke-width="1"/>
<text x="417.70" y="242.90" font-size="8.3" text-anchor="end" fill="#111">0.8</text>
<line x1="418.90" y1="261.50" x2="422.90" y2="261.50" stroke="#555" stroke-width="1"/>
<text x="417.70" y="264.40" font-size="8.3" text-anchor="end" fill="#111">0.6</text>
<line x1="418.90" y1="283.00" x2="422.90" y2="283.00" stroke="#555" stroke-width="1"/>
<text x="417.70" y="285.90" font-size="8.3" text-anchor="end" fill="#111">0.4</text>
<line x1="418.90" y1="304.50" x2="422.90" y2="304.50" stroke="#555" stroke-width="1"/>
<text x="417.70" y="307.40" font-size="8.3" text-anchor="end" fill="#111">0.2</text>
<line x1="418.90" y1="325.90" x2="422.90" y2="325.90" stroke="#555" stroke-width="1"/>
<text x="417.70" y="328.80" font-size="8.3" text-anchor="end" fill="#111">0.0</text>
<text x="390.25" y="272.50" font-size="9.0" text-anchor="middle" transform="rotate(-90 390.25 272.50)" fill="#111">Relative cell number</text>
<text x="401.95" y="271.60" font-size="9.0" text-anchor="middle" transform="rotate(-90 401.95 271.60)" fill="#111">(MIA PaCa-2)</text>
<rect x="425.20" y="215.00" width="11.70" height="3.40" fill="#808080" stroke="#2a2a2a" stroke-width="0.7"/>
<text x="443.90" y="219.40" font-size="7.4" fill="#111">shCtrl</text>
<rect x="425.20" y="221.80" width="11.70" height="3.40" fill="#2f5283" stroke="#2a2a2a" stroke-width="0.7"/>
<text x="443.90" y="226.20" font-size="7.4" fill="#111">sh<tspan font-style="italic">SMIM4</tspan> #1</text>
<rect x="425.20" y="229.20" width="11.70" height="3.40" fill="#8ac8c6" stroke="#2a2a2a" stroke-width="0.7"/>
<text x="443.90" y="233.60" font-size="7.4" fill="#111">sh<tspan font-style="italic">SMIM4</tspan> #2</text>
<rect x="429.20" y="307.40" width="10.00" height="18.50" fill="#808080" stroke="#2a2a2a" stroke-width="0.8"/>
<rect x="444.60" y="297.50" width="9.70" height="28.40" fill="#2f5283" stroke="#2a2a2a" stroke-width="0.8"/>
<rect x="459.80" y="299.80" width="9.70" height="26.10" fill="#8ac8c6" stroke="#2a2a2a" stroke-width="0.8"/>
<rect x="482.60" y="296.30" width="9.70" height="29.60" fill="#808080" stroke="#2a2a2a" stroke-width="0.8"/>
<rect x="497.50" y="282.30" width="9.70" height="43.60" fill="#2f5283" stroke="#2a2a2a" stroke-width="0.8"/>
<rect x="512.90" y="272.70" width="10.10" height="53.20" fill="#8ac8c6" stroke="#2a2a2a" stroke-width="0.8"/>
<rect x="535.50" y="287.10" width="10.50" height="38.80" fill="#808080" stroke="#2a2a2a" stroke-width="0.8"/>
<rect x="550.90" y="270.90" width="10.30" height="55.00" fill="#2f5283" stroke="#2a2a2a" stroke-width="0.8"/>
<rect x="566.60" y="262.80" width="10.00" height="63.10" fill="#8ac8c6" stroke="#2a2a2a" stroke-width="0.8"/>
<rect x="589.00" y="284.40" width="10.60" height="41.50" fill="#808080" stroke="#2a2a2a" stroke-width="0.8"/>
<rect x="604.40" y="258.70" width="10.00" height="67.20" fill="#2f5283" stroke="#2a2a2a" stroke-width="0.8"/>
<rect x="619.80" y="254.70" width="10.00" height="71.20" fill="#8ac8c6" stroke="#2a2a2a" stroke-width="0.8"/>
<circle cx="430.50" cy="307.30" r="1.75" fill="#fff" stroke="#333" stroke-width="0.6"/>
<circle cx="434.00" cy="305.90" r="1.75" fill="#fff" stroke="#333" stroke-width="0.6"/>
<circle cx="438.40" cy="306.40" r="1.75" fill="#fff" stroke="#333" stroke-width="0.6"/>
<circle cx="445.90" cy="298.20" r="1.75" fill="#fff" stroke="#333" stroke-width="0.6"/>
<circle cx="448.90" cy="296.40" r="1.75" fill="#fff" stroke="#333" stroke-width="0.6"/>
<circle cx="453.30" cy="296.40" r="1.75" fill="#fff" stroke="#333" stroke-width="0.6"/>
<circle cx="460.60" cy="299.40" r="1.75" fill="#fff" stroke="#333" stroke-width="0.6"/>
<circle cx="464.70" cy="295.90" r="1.75" fill="#fff" stroke="#333" stroke-width="0.6"/>
<circle cx="468.70" cy="298.90" r="1.75" fill="#fff" stroke="#333" stroke-width="0.6"/>
<circle cx="464.70" cy="297.70" r="1.75" fill="#fff" stroke="#333" stroke-width="0.6"/>
<circle cx="483.40" cy="296.40" r="1.75" fill="#fff" stroke="#333" stroke-width="0.6"/>
<circle cx="487.40" cy="294.20" r="1.75" fill="#fff" stroke="#333" stroke-width="0.6"/>
<circle cx="491.50" cy="295.90" r="1.75" fill="#fff" stroke="#333" stroke-width="0.6"/>
<circle cx="498.80" cy="281.90" r="1.75" fill="#fff" stroke="#333" stroke-width="0.6"/>
<circle cx="502.70" cy="285.40" r="1.75" fill="#fff" stroke="#333" stroke-width="0.6"/>
<circle cx="506.40" cy="281.90" r="1.75" fill="#fff" stroke="#333" stroke-width="0.6"/>
<circle cx="514.30" cy="272.30" r="1.75" fill="#fff" stroke="#333" stroke-width="0.6"/>
<circle cx="518.10" cy="270.90" r="1.75" fill="#fff" stroke="#333" stroke-width="0.6"/>
<circle cx="521.60" cy="272.30" r="1.75" fill="#fff" stroke="#333" stroke-width="0.6"/>
<circle cx="536.50" cy="284.80" r="1.75" fill="#fff" stroke="#333" stroke-width="0.6"/>
<circle cx="537.80" cy="288.00" r="1.75" fill="#fff" stroke="#333" stroke-width="0.6"/>
<circle cx="544.60" cy="286.90" r="1.75" fill="#fff" stroke="#333" stroke-width="0.6"/>
<line x1="556.05" y1="269.40" x2="556.05" y2="272.00" stroke="#222" stroke-width="0.8"/>
<line x1="553.30" y1="269.40" x2="558.80" y2="269.40" stroke="#222" stroke-width="0.8"/>
<line x1="553.30" y1="272.00" x2="558.80" y2="272.00" stroke="#222" stroke-width="0.8"/>
<circle cx="556.00" cy="265.90" r="1.75" fill="#fff" stroke="#333" stroke-width="0.6"/>
<circle cx="556.00" cy="272.10" r="1.75" fill="#fff" stroke="#333" stroke-width="0.6"/>
<circle cx="556.00" cy="274.00" r="1.75" fill="#fff" stroke="#333" stroke-width="0.6"/>
<line x1="571.60" y1="258.60" x2="571.60" y2="265.00" stroke="#222" stroke-width="0.8"/>
<line x1="568.85" y1="258.60" x2="574.35" y2="258.60" stroke="#222" stroke-width="0.8"/>
<line x1="568.85" y1="265.00" x2="574.35" y2="265.00" stroke="#222" stroke-width="0.8"/>
<circle cx="567.00" cy="257.80" r="1.75" fill="#fff" stroke="#333" stroke-width="0.6"/>
<circle cx="575.60" cy="257.80" r="1.75" fill="#fff" stroke="#333" stroke-width="0.6"/>
<circle cx="571.60" cy="267.80" r="1.75" fill="#fff" stroke="#333" stroke-width="0.6"/>
<circle cx="589.90" cy="284.00" r="1.75" fill="#fff" stroke="#333" stroke-width="0.6"/>
<circle cx="593.70" cy="281.50" r="1.75" fill="#fff" stroke="#333" stroke-width="0.6"/>
<circle cx="597.80" cy="282.90" r="1.75" fill="#fff" stroke="#333" stroke-width="0.6"/>
<circle cx="605.30" cy="257.80" r="1.75" fill="#fff" stroke="#333" stroke-width="0.6"/>
<circle cx="609.40" cy="257.00" r="1.75" fill="#fff" stroke="#333" stroke-width="0.6"/>
<circle cx="613.40" cy="257.80" r="1.75" fill="#fff" stroke="#333" stroke-width="0.6"/>
<circle cx="620.70" cy="253.70" r="1.75" fill="#fff" stroke="#333" stroke-width="0.6"/>
<circle cx="624.20" cy="251.00" r="1.75" fill="#fff" stroke="#333" stroke-width="0.6"/>
<circle cx="628.30" cy="253.70" r="1.75" fill="#fff" stroke="#333" stroke-width="0.6"/>
<circle cx="624.20" cy="250.20" r="1.75" fill="#fff" stroke="#333" stroke-width="0.6"/>
<line x1="422.90" y1="325.90" x2="635.00" y2="325.90" stroke="#555" stroke-width="1"/>
<line x1="449.00" y1="325.90" x2="449.00" y2="328.90" stroke="#555" stroke-width="1"/>
<text x="449.00" y="336.90" font-size="8.1" text-anchor="middle" fill="#111">0</text>
<line x1="502.30" y1="325.90" x2="502.30" y2="328.90" stroke="#555" stroke-width="1"/>
<text x="502.30" y="336.90" font-size="8.1" text-anchor="middle" fill="#111">1.0</text>
<line x1="556.00" y1="325.90" x2="556.00" y2="328.90" stroke="#555" stroke-width="1"/>
<text x="556.00" y="336.90" font-size="8.1" text-anchor="middle" fill="#111">2.0</text>
<line x1="609.40" y1="325.90" x2="609.40" y2="328.90" stroke="#555" stroke-width="1"/>
<text x="609.40" y="336.90" font-size="8.1" text-anchor="middle" fill="#111">4.0</text>
<text x="628.00" y="336.90" font-size="7.8" text-anchor="middle" fill="#111">(mM)</text>
<text x="423.00" y="336.90" font-size="8.0" text-anchor="end" fill="#111">Gln</text>
<line x1="435.10" y1="277.10" x2="461.80" y2="277.10" stroke="#303030" stroke-width="0.85"/>
<text x="449.80" y="273.60" font-size="7.4" text-anchor="middle" fill="#111"><tspan font-style="italic">P</tspan> = 0.0030</text>
<line x1="435.50" y1="290.80" x2="446.70" y2="290.80" stroke="#303030" stroke-width="0.85"/>
<text x="443.00" y="287.00" font-size="7.4" text-anchor="middle" fill="#111"><tspan font-style="italic">P</tspan> = 0.0006</text>
<line x1="488.60" y1="258.70" x2="516.30" y2="258.70" stroke="#303030" stroke-width="0.85"/>
<text x="501.90" y="254.60" font-size="7.4" text-anchor="middle" fill="#111"><tspan font-style="italic">P</tspan> = 7.66E-06</text>
<line x1="488.90" y1="272.20" x2="502.90" y2="272.20" stroke="#303030" stroke-width="0.85"/>
<text x="498.00" y="268.60" font-size="7.4" text-anchor="middle" fill="#111"><tspan font-style="italic">P</tspan> = 0.0011</text>
<line x1="541.30" y1="242.40" x2="572.40" y2="242.40" stroke="#303030" stroke-width="0.85"/>
<text x="558.80" y="238.30" font-size="7.4" text-anchor="middle" fill="#111"><tspan font-style="italic">P</tspan> = 0.0022</text>
<line x1="541.00" y1="257.20" x2="557.50" y2="257.20" stroke="#303030" stroke-width="0.85"/>
<text x="551.50" y="253.70" font-size="7.4" text-anchor="middle" fill="#111"><tspan font-style="italic">P</tspan> = 0.0027</text>
<line x1="594.00" y1="234.30" x2="625.60" y2="234.30" stroke="#303030" stroke-width="0.85"/>
<text x="609.70" y="230.20" font-size="7.4" text-anchor="middle" fill="#111"><tspan font-style="italic">P</tspan> = 4.18E-05</text>
<line x1="594.00" y1="249.10" x2="610.70" y2="249.10" stroke="#303030" stroke-width="0.85"/>
<text x="602.40" y="245.10" font-size="7.4" text-anchor="middle" fill="#111"><tspan font-style="italic">P</tspan> = 1.26E-05</text>
<text x="1.80" y="393.70" font-size="14" font-weight="bold" fill="#000">H</text>
<line x1="51.40" y1="406.30" x2="51.40" y2="514.00" stroke="#555" stroke-width="1"/>
<line x1="47.40" y1="406.30" x2="51.40" y2="406.30" stroke="#555" stroke-width="1"/>
<text x="46.20" y="409.20" font-size="8.5" text-anchor="end" fill="#111">1.0</text>
<line x1="47.40" y1="427.80" x2="51.40" y2="427.80" stroke="#555" stroke-width="1"/>
<text x="46.20" y="430.70" font-size="8.5" text-anchor="end" fill="#111">0.8</text>
<line x1="47.40" y1="449.30" x2="51.40" y2="449.30" stroke="#555" stroke-width="1"/>
<text x="46.20" y="452.20" font-size="8.5" text-anchor="end" fill="#111">0.6</text>
<line x1="47.40" y1="471.00" x2="51.40" y2="471.00" stroke="#555" stroke-width="1"/>
<text x="46.20" y="473.90" font-size="8.5" text-anchor="end" fill="#111">0.4</text>
<line x1="47.40" y1="492.40" x2="51.40" y2="492.40" stroke="#555" stroke-width="1"/>
<text x="46.20" y="495.30" font-size="8.5" text-anchor="end" fill="#111">0.2</text>
<line x1="47.40" y1="514.00" x2="51.40" y2="514.00" stroke="#555" stroke-width="1"/>
<text x="46.20" y="516.90" font-size="8.5" text-anchor="end" fill="#111">0.0</text>
<text x="20.85" y="460.40" font-size="9.0" text-anchor="middle" transform="rotate(-90 20.85 460.40)" fill="#111">Relative cell number</text>
<text x="31.95" y="459.70" font-size="9.0" text-anchor="middle" transform="rotate(-90 31.95 459.70)" fill="#111">(PANC-1)</text>
<rect x="54.20" y="402.60" width="11.70" height="3.40" fill="#808080" stroke="#2a2a2a" stroke-width="0.7"/>
<text x="72.00" y="407.00" font-size="7.7" fill="#111">shCtrl</text>
<rect x="54.20" y="409.50" width="11.70" height="3.40" fill="#2f5283" stroke="#2a2a2a" stroke-width="0.7"/>
<text x="72.00" y="413.90" font-size="7.7" fill="#111">sh<tspan font-style="italic">SMIM4</tspan> #1</text>
<rect x="54.20" y="416.80" width="11.70" height="3.40" fill="#8ac8c6" stroke="#2a2a2a" stroke-width="0.7"/>
<text x="72.00" y="421.20" font-size="7.7" fill="#111">sh<tspan font-style="italic">SMIM4</tspan> #2</text>
<rect x="57.40" y="486.30" width="10.40" height="27.70" fill="#808080" stroke="#2a2a2a" stroke-width="0.8"/>
<rect x="72.90" y="475.50" width="10.30" height="38.50" fill="#2f5283" stroke="#2a2a2a" stroke-width="0.8"/>
<rect x="88.40" y="478.20" width="10.00" height="35.80" fill="#8ac8c6" stroke="#2a2a2a" stroke-width="0.8"/>
<rect x="111.60" y="480.10" width="9.60" height="33.90" fill="#808080" stroke="#2a2a2a" stroke-width="0.8"/>
<rect x="127.00" y="468.20" width="9.80" height="45.80" fill="#2f5283" stroke="#2a2a2a" stroke-width="0.8"/>
<rect x="141.80" y="470.60" width="10.40" height="43.40" fill="#8ac8c6" stroke="#2a2a2a" stroke-width="0.8"/>
<rect x="164.40" y="476.50" width="10.80" height="37.50" fill="#808080" stroke="#2a2a2a" stroke-width="0.8"/>
<rect x="180.40" y="459.00" width="10.00" height="55.00" fill="#2f5283" stroke="#2a2a2a" stroke-width="0.8"/>
<rect x="195.40" y="456.00" width="10.60" height="58.00" fill="#8ac8c6" stroke="#2a2a2a" stroke-width="0.8"/>
<rect x="219.00" y="466.30" width="10.00" height="47.70" fill="#808080" stroke="#2a2a2a" stroke-width="0.8"/>
<rect x="233.80" y="449.30" width="10.60" height="64.70" fill="#2f5283" stroke="#2a2a2a" stroke-width="0.8"/>
<rect x="249.40" y="450.10" width="10.10" height="63.90" fill="#8ac8c6" stroke="#2a2a2a" stroke-width="0.8"/>
<line x1="62.60" y1="485.00" x2="62.60" y2="488.50" stroke="#222" stroke-width="0.8"/>
<line x1="59.85" y1="485.00" x2="65.35" y2="485.00" stroke="#222" stroke-width="0.8"/>
<line x1="59.85" y1="488.50" x2="65.35" y2="488.50" stroke="#222" stroke-width="0.8"/>
<circle cx="58.10" cy="483.70" r="1.75" fill="#fff" stroke="#333" stroke-width="0.6"/>
<circle cx="62.90" cy="490.00" r="1.75" fill="#fff" stroke="#333" stroke-width="0.6"/>
<circle cx="66.20" cy="483.20" r="1.75" fill="#fff" stroke="#333" stroke-width="0.6"/>
<circle cx="73.50" cy="475.10" r="1.75" fill="#fff" stroke="#333" stroke-width="0.6"/>
<circle cx="77.80" cy="474.30" r="1.75" fill="#fff" stroke="#333" stroke-width="0.6"/>
<circle cx="81.60" cy="475.10" r="1.75" fill="#fff" stroke="#333" stroke-width="0.6"/>
<line x1="93.40" y1="476.50" x2="93.40" y2="480.00" stroke="#222" stroke-width="0.8"/>
<line x1="90.65" y1="476.50" x2="96.15" y2="476.50" stroke="#222" stroke-width="0.8"/>
<line x1="90.65" y1="480.00" x2="96.15" y2="480.00" stroke="#222" stroke-width="0.8"/>
<circle cx="89.70" cy="475.10" r="1.75" fill="#fff" stroke="#333" stroke-width="0.6"/>
<circle cx="93.70" cy="481.90" r="1.75" fill="#fff" stroke="#333" stroke-width="0.6"/>
<circle cx="97.20" cy="475.10" r="1.75" fill="#fff" stroke="#333" stroke-width="0.6"/>
<circle cx="111.30" cy="478.30" r="1.75" fill="#fff" stroke="#333" stroke-width="0.6"/>
<circle cx="115.60" cy="480.00" r="1.75" fill="#fff" stroke="#333" stroke-width="0.6"/>
<circle cx="119.60" cy="478.60" r="1.75" fill="#fff" stroke="#333" stroke-width="0.6"/>
<circle cx="127.50" cy="466.50" r="1.75" fill="#fff" stroke="#333" stroke-width="0.6"/>
<circle cx="131.80" cy="468.90" r="1.75" fill="#fff" stroke="#333" stroke-width="0.6"/>
<circle cx="135.60" cy="466.50" r="1.75" fill="#fff" stroke="#333" stroke-width="0.6"/>
<line x1="147.00" y1="467.80" x2="147.00" y2="472.00" stroke="#222" stroke-width="0.8"/>
<line x1="144.25" y1="467.80" x2="149.75" y2="467.80" stroke="#222" stroke-width="0.8"/>
<line x1="144.25" y1="472.00" x2="149.75" y2="472.00" stroke="#222" stroke-width="0.8"/>
<circle cx="142.60" cy="470.50" r="1.75" fill="#fff" stroke="#333" stroke-width="0.6"/>
<circle cx="147.20" cy="464.80" r="1.75" fill="#fff" stroke="#333" stroke-width="0.6"/>
<circle cx="150.70" cy="470.50" r="1.75" fill="#fff" stroke="#333" stroke-width="0.6"/>
<line x1="169.80" y1="474.80" x2="169.80" y2="477.00" stroke="#222" stroke-width="0.8"/>
<line x1="167.05" y1="474.80" x2="172.55" y2="474.80" stroke="#222" stroke-width="0.8"/>
<line x1="167.05" y1="477.00" x2="172.55" y2="477.00" stroke="#222" stroke-width="0.8"/>
<circle cx="169.40" cy="472.10" r="1.75" fill="#fff" stroke="#333" stroke-width="0.6"/>
<circle cx="169.40" cy="475.90" r="1.75" fill="#fff" stroke="#333" stroke-width="0.6"/>
<circle cx="169.40" cy="479.40" r="1.75" fill="#fff" stroke="#333" stroke-width="0.6"/>
<circle cx="181.60" cy="458.60" r="1.75" fill="#fff" stroke="#333" stroke-width="0.6"/>
<circle cx="184.80" cy="455.90" r="1.75" fill="#fff" stroke="#333" stroke-width="0.6"/>
<circle cx="188.90" cy="458.60" r="1.75" fill="#fff" stroke="#333" stroke-width="0.6"/>
<line x1="200.70" y1="450.20" x2="200.70" y2="460.50" stroke="#222" stroke-width="0.8"/>
<line x1="197.95" y1="450.20" x2="203.45" y2="450.20" stroke="#222" stroke-width="0.8"/>
<line x1="197.95" y1="460.50" x2="203.45" y2="460.50" stroke="#222" stroke-width="0.8"/>
<circle cx="200.50" cy="445.60" r="1.75" fill="#fff" stroke="#333" stroke-width="0.6"/>
<circle cx="197.50" cy="461.80" r="1.75" fill="#fff" stroke="#333" stroke-width="0.6"/>
<circle cx="204.30" cy="458.60" r="1.75" fill="#fff" stroke="#333" stroke-width="0.6"/>
<circle cx="219.90" cy="465.10" r="1.75" fill="#fff" stroke="#333" stroke-width="0.6"/>
<circle cx="224.00" cy="465.10" r="1.75" fill="#fff" stroke="#333" stroke-width="0.6"/>
<circle cx="227.50" cy="465.10" r="1.75" fill="#fff" stroke="#333" stroke-width="0.6"/>
<line x1="239.10" y1="445.60" x2="239.10" y2="451.00" stroke="#222" stroke-width="0.8"/>
<line x1="236.35" y1="445.60" x2="241.85" y2="445.60" stroke="#222" stroke-width="0.8"/>
<line x1="236.35" y1="451.00" x2="241.85" y2="451.00" stroke="#222" stroke-width="0.8"/>
<circle cx="238.80" cy="442.10" r="1.75" fill="#fff" stroke="#333" stroke-width="0.6"/>
<circle cx="235.30" cy="451.60" r="1.75" fill="#fff" stroke="#333" stroke-width="0.6"/>
<circle cx="242.90" cy="450.20" r="1.75" fill="#fff" stroke="#333" stroke-width="0.6"/>
<line x1="254.45" y1="447.80" x2="254.45" y2="451.00" stroke="#222" stroke-width="0.8"/>
<line x1="251.70" y1="447.80" x2="257.20" y2="447.80" stroke="#222" stroke-width="0.8"/>
<line x1="251.70" y1="451.00" x2="257.20" y2="451.00" stroke="#222" stroke-width="0.8"/>
<circle cx="254.20" cy="443.50" r="1.75" fill="#fff" stroke="#333" stroke-width="0.6"/>
<circle cx="251.00" cy="451.60" r="1.75" fill="#fff" stroke="#333" stroke-width="0.6"/>
<circle cx="258.30" cy="449.70" r="1.75" fill="#fff" stroke="#333" stroke-width="0.6"/>
<line x1="51.40" y1="514.00" x2="265.80" y2="514.00" stroke="#555" stroke-width="1"/>
<line x1="77.80" y1="514.00" x2="77.80" y2="517.00" stroke="#555" stroke-width="1"/>
<text x="77.80" y="524.80" font-size="8.1" text-anchor="middle" fill="#111">0</text>
<line x1="131.80" y1="514.00" x2="131.80" y2="517.00" stroke="#555" stroke-width="1"/>
<text x="131.80" y="524.80" font-size="8.1" text-anchor="middle" fill="#111">1.0</text>
<line x1="184.90" y1="514.00" x2="184.90" y2="517.00" stroke="#555" stroke-width="1"/>
<text x="184.90" y="524.80" font-size="8.1" text-anchor="middle" fill="#111">2.0</text>
<line x1="238.90" y1="514.00" x2="238.90" y2="517.00" stroke="#555" stroke-width="1"/>
<text x="238.90" y="524.80" font-size="8.1" text-anchor="middle" fill="#111">4.0</text>
<text x="258.60" y="524.80" font-size="7.7" text-anchor="middle" fill="#111">(mM)</text>
<text x="51.30" y="524.80" font-size="8.0" text-anchor="end" fill="#111">Gln</text>
<line x1="64.00" y1="455.40" x2="89.70" y2="455.40" stroke="#303030" stroke-width="0.85"/>
<text x="79.30" y="451.40" font-size="7.6" text-anchor="middle" fill="#111"><tspan font-style="italic">P</tspan> = 0.0495</text>
<line x1="63.50" y1="469.20" x2="77.80" y2="469.20" stroke="#303030" stroke-width="0.85"/>
<text x="73.90" y="466.30" font-size="7.6" text-anchor="middle" fill="#111"><tspan font-style="italic">P</tspan> = 0.0083</text>
<line x1="118.30" y1="447.50" x2="145.70" y2="447.50" stroke="#303030" stroke-width="0.85"/>
<text x="131.80" y="444.00" font-size="7.6" text-anchor="middle" fill="#111"><tspan font-style="italic">P</tspan> = 0.0224</text>
<line x1="118.30" y1="461.10" x2="132.30" y2="461.10" stroke="#303030" stroke-width="0.85"/>
<text x="126.30" y="458.20" font-size="7.6" text-anchor="middle" fill="#111"><tspan font-style="italic">P</tspan> = 0.0017</text>
<line x1="167.30" y1="435.40" x2="198.90" y2="435.40" stroke="#303030" stroke-width="0.85"/>
<text x="183.10" y="432.00" font-size="7.6" text-anchor="middle" fill="#111"><tspan font-style="italic">P</tspan> = 0.0200</text>
<line x1="168.10" y1="450.20" x2="184.80" y2="450.20" stroke="#303030" stroke-width="0.85"/>
<text x="177.70" y="446.00" font-size="7.6" text-anchor="middle" fill="#111"><tspan font-style="italic">P</tspan> = 0.0013</text>
<line x1="222.10" y1="420.80" x2="253.70" y2="420.80" stroke="#303030" stroke-width="0.85"/>
<text x="239.50" y="416.80" font-size="7.6" text-anchor="middle" fill="#111"><tspan font-style="italic">P</tspan> = 0.0026</text>
<line x1="222.10" y1="436.20" x2="239.40" y2="436.20" stroke="#303030" stroke-width="0.85"/>
<text x="233.00" y="432.50" font-size="7.6" text-anchor="middle" fill="#111"><tspan font-style="italic">P</tspan> = 0.0057</text>
<text x="304.70" y="393.50" font-size="14" font-weight="bold" fill="#000">I</text>
<line x1="354.70" y1="410.20" x2="354.70" y2="515.30" stroke="#555" stroke-width="1"/>
<line x1="350.70" y1="410.20" x2="354.70" y2="410.20" stroke="#555" stroke-width="1"/>
<text x="349.50" y="413.10" font-size="8.3" text-anchor="end" fill="#111">4</text>
<line x1="350.70" y1="436.50" x2="354.70" y2="436.50" stroke="#555" stroke-width="1"/>
<text x="349.50" y="439.40" font-size="8.3" text-anchor="end" fill="#111">3</text>
<line x1="350.70" y1="462.80" x2="354.70" y2="462.80" stroke="#555" stroke-width="1"/>
<text x="349.50" y="465.70" font-size="8.3" text-anchor="end" fill="#111">2</text>
<line x1="350.70" y1="489.10" x2="354.70" y2="489.10" stroke="#555" stroke-width="1"/>
<text x="349.50" y="492.00" font-size="8.3" text-anchor="end" fill="#111">1</text>
<line x1="350.70" y1="515.30" x2="354.70" y2="515.30" stroke="#555" stroke-width="1"/>
<text x="349.50" y="518.20" font-size="8.3" text-anchor="end" fill="#111">0</text>
<text x="325.25" y="465.60" font-size="9.0" text-anchor="middle" transform="rotate(-90 325.25 465.60)" fill="#111">Relative ROS level</text>
<text x="337.45" y="466.00" font-size="9.0" text-anchor="middle" transform="rotate(-90 337.45 466.00)" fill="#111">(MIA PaCa-2)</text>
<rect x="361.20" y="489.50" width="10.80" height="25.80" fill="#808080" stroke="#2a2a2a" stroke-width="0.8"/>
<rect x="377.90" y="493.50" width="10.30" height="21.80" fill="#2f5283" stroke="#2a2a2a" stroke-width="0.8"/>
<rect x="393.60" y="492.20" width="10.80" height="23.10" fill="#58aeab" stroke="#2a2a2a" stroke-width="0.8"/>
<rect x="421.60" y="427.00" width="10.70" height="88.30" fill="#808080" stroke="#2a2a2a" stroke-width="0.8"/>
<rect x="438.10" y="477.30" width="10.30" height="38.00" fill="#2f5283" stroke="#2a2a2a" stroke-width="0.8"/>
<rect x="453.80" y="479.20" width="10.50" height="36.10" fill="#58aeab" stroke="#2a2a2a" stroke-width="0.8"/>
<line x1="366.60" y1="485.60" x2="366.60" y2="493.70" stroke="#222" stroke-width="0.8"/>
<line x1="363.85" y1="485.60" x2="369.35" y2="485.60" stroke="#222" stroke-width="0.8"/>
<line x1="363.85" y1="493.70" x2="369.35" y2="493.70" stroke="#222" stroke-width="0.8"/>
<circle cx="366.20" cy="482.10" r="1.75" fill="#fff" stroke="#333" stroke-width="0.6"/>
<circle cx="364.80" cy="495.00" r="1.75" fill="#fff" stroke="#333" stroke-width="0.6"/>
<circle cx="369.70" cy="491.50" r="1.75" fill="#fff" stroke="#333" stroke-width="0.6"/>
<circle cx="378.30" cy="492.30" r="1.75" fill="#fff" stroke="#333" stroke-width="0.6"/>
<circle cx="382.40" cy="493.70" r="1.75" fill="#fff" stroke="#333" stroke-width="0.6"/>
<circle cx="386.40" cy="492.90" r="1.75" fill="#fff" stroke="#333" stroke-width="0.6"/>
<circle cx="379.70" cy="490.20" r="1.75" fill="#fff" stroke="#333" stroke-width="0.6"/>
<circle cx="394.50" cy="491.00" r="1.75" fill="#fff" stroke="#333" stroke-width="0.6"/>
<circle cx="398.60" cy="492.30" r="1.75" fill="#fff" stroke="#333" stroke-width="0.6"/>
<circle cx="402.60" cy="491.80" r="1.75" fill="#fff" stroke="#333" stroke-width="0.6"/>
<circle cx="422.60" cy="423.70" r="1.75" fill="#fff" stroke="#333" stroke-width="0.6"/>
<circle cx="422.60" cy="429.20" r="1.75" fill="#fff" stroke="#333" stroke-width="0.6"/>
<circle cx="430.70" cy="426.10" r="1.75" fill="#fff" stroke="#333" stroke-width="0.6"/>
<circle cx="426.60" cy="426.60" r="1.75" fill="#fff" stroke="#333" stroke-width="0.6"/>
<circle cx="439.10" cy="476.70" r="1.75" fill="#fff" stroke="#333" stroke-width="0.6"/>
<circle cx="443.10" cy="475.60" r="1.75" fill="#fff" stroke="#333" stroke-width="0.6"/>
<circle cx="447.20" cy="476.70" r="1.75" fill="#fff" stroke="#333" stroke-width="0.6"/>
<circle cx="455.30" cy="478.80" r="1.75" fill="#fff" stroke="#333" stroke-width="0.6"/>
<circle cx="459.30" cy="478.00" r="1.75" fill="#fff" stroke="#333" stroke-width="0.6"/>
<circle cx="462.80" cy="478.80" r="1.75" fill="#fff" stroke="#333" stroke-width="0.6"/>
<line x1="354.70" y1="515.30" x2="471.50" y2="515.30" stroke="#555" stroke-width="1"/>
<line x1="366.10" y1="462.60" x2="396.50" y2="462.60" stroke="#303030" stroke-width="0.85"/>
<text x="381.40" y="458.00" font-size="8.5" text-anchor="middle" fill="#111">ns</text>
<line x1="366.20" y1="476.90" x2="381.60" y2="476.90" stroke="#303030" stroke-width="0.85"/>
<text x="373.50" y="472.50" font-size="8.5" text-anchor="middle" fill="#111">ns</text>
<line x1="426.60" y1="402.70" x2="456.80" y2="402.70" stroke="#303030" stroke-width="0.85"/>
<text x="442.00" y="398.00" font-size="7.5" text-anchor="middle" fill="#111"><tspan font-style="italic">P</tspan> = &#160;1.00E-05</text>
<line x1="427.20" y1="417.80" x2="442.20" y2="417.80" stroke="#303030" stroke-width="0.85"/>
<text x="434.70" y="413.20" font-size="7.5" text-anchor="middle" fill="#111"><tspan font-style="italic">P</tspan> = &#160;5.75E-06</text>
<text x="354.80" y="524.90" font-size="8.1" text-anchor="end" fill="#111">Glc</text>
<text x="366.60" y="524.00" font-size="7.128" text-anchor="middle" fill="#111" style="stroke-width:0.3px">+</text>
<text x="383.05" y="524.00" font-size="7.128" text-anchor="middle" fill="#111" style="stroke-width:0.3px">+</text>
<text x="399.00" y="524.00" font-size="7.128" text-anchor="middle" fill="#111" style="stroke-width:0.3px">+</text>
<text x="426.95" y="523.60" font-size="7.128" text-anchor="middle" fill="#111" style="stroke-width:0.3px">-</text>
<text x="443.25" y="523.60" font-size="7.128" text-anchor="middle" fill="#111" style="stroke-width:0.3px">-</text>
<text x="459.05" y="523.60" font-size="7.128" text-anchor="middle" fill="#111" style="stroke-width:0.3px">-</text>
<text x="354.80" y="532.90" font-size="8.1" text-anchor="end" fill="#111">shCtrl</text>
<text x="366.60" y="532.00" font-size="7.128" text-anchor="middle" fill="#111" style="stroke-width:0.3px">+</text>
<text x="383.05" y="531.60" font-size="7.128" text-anchor="middle" fill="#111" style="stroke-width:0.3px">-</text>
<text x="399.00" y="531.60" font-size="7.128" text-anchor="middle" fill="#111" style="stroke-width:0.3px">-</text>
<text x="426.95" y="532.00" font-size="7.128" text-anchor="middle" fill="#111" style="stroke-width:0.3px">+</text>
<text x="443.25" y="531.60" font-size="7.128" text-anchor="middle" fill="#111" style="stroke-width:0.3px">-</text>
<text x="459.05" y="531.60" font-size="7.128" text-anchor="middle" fill="#111" style="stroke-width:0.3px">-</text>
<text x="354.80" y="540.60" font-size="8.1" text-anchor="end" fill="#111">sh<tspan font-style="italic">SMIM4</tspan> #1</text>
<text x="366.60" y="539.30" font-size="7.128" text-anchor="middle" fill="#111" style="stroke-width:0.3px">-</text>
<text x="383.05" y="539.70" font-size="7.128" text-anchor="middle" fill="#111" style="stroke-width:0.3px">+</text>
<text x="399.00" y="539.30" font-size="7.128" text-anchor="middle" fill="#111" style="stroke-width:0.3px">-</text>
<text x="426.95" y="539.30" font-size="7.128" text-anchor="middle" fill="#111" style="stroke-width:0.3px">-</text>
<text x="443.25" y="539.70" font-size="7.128" text-anchor="middle" fill="#111" style="stroke-width:0.3px">+</text>
<text x="459.05" y="539.30" font-size="7.128" text-anchor="middle" fill="#111" style="stroke-width:0.3px">-</text>
<text x="354.80" y="548.40" font-size="8.1" text-anchor="end" fill="#111">sh<tspan font-style="italic">SMIM4</tspan> #2</text>
<text x="366.60" y="547.10" font-size="7.128" text-anchor="middle" fill="#111" style="stroke-width:0.3px">-</text>
<text x="383.05" y="547.10" font-size="7.128" text-anchor="middle" fill="#111" style="stroke-width:0.3px">-</text>
<text x="399.00" y="547.50" font-size="7.128" text-anchor="middle" fill="#111" style="stroke-width:0.3px">+</text>
<text x="426.95" y="547.10" font-size="7.128" text-anchor="middle" fill="#111" style="stroke-width:0.3px">-</text>
<text x="443.25" y="547.10" font-size="7.128" text-anchor="middle" fill="#111" style="stroke-width:0.3px">-</text>
<text x="459.05" y="547.50" font-size="7.128" text-anchor="middle" fill="#111" style="stroke-width:0.3px">+</text>
<text x="517.60" y="393.50" font-size="14" font-weight="bold" fill="#000">J</text>
<line x1="567.40" y1="408.80" x2="567.40" y2="515.00" stroke="#555" stroke-width="1"/>
<line x1="563.40" y1="408.80" x2="567.40" y2="408.80" stroke="#555" stroke-width="1"/>
<text x="562.20" y="411.70" font-size="8.3" text-anchor="end" fill="#111">5</text>
<line x1="563.40" y1="430.10" x2="567.40" y2="430.10" stroke="#555" stroke-width="1"/>
<text x="562.20" y="433.00" font-size="8.3" text-anchor="end" fill="#111">4</text>
<line x1="563.40" y1="451.40" x2="567.40" y2="451.40" stroke="#555" stroke-width="1"/>
<text x="562.20" y="454.30" font-size="8.3" text-anchor="end" fill="#111">3</text>
<line x1="563.40" y1="472.70" x2="567.40" y2="472.70" stroke="#555" stroke-width="1"/>
<text x="562.20" y="475.60" font-size="8.3" text-anchor="end" fill="#111">2</text>
<line x1="563.40" y1="493.90" x2="567.40" y2="493.90" stroke="#555" stroke-width="1"/>
<text x="562.20" y="496.80" font-size="8.3" text-anchor="end" fill="#111">1</text>
<line x1="563.40" y1="515.00" x2="567.40" y2="515.00" stroke="#555" stroke-width="1"/>
<text x="562.20" y="517.90" font-size="8.3" text-anchor="end" fill="#111">0</text>
<text x="537.05" y="464.00" font-size="9.0" text-anchor="middle" transform="rotate(-90 537.05 464.00)" fill="#111">Relative H<tspan font-size="6" dy="1.5">2</tspan><tspan dy="-1.5">O</tspan><tspan font-size="6" dy="1.5">2</tspan><tspan dy="-1.5"> level</tspan></text>
<text x="548.95" y="464.00" font-size="9.0" text-anchor="middle" transform="rotate(-90 548.95 464.00)" fill="#111">(MIA PaCa-2)</text>
<rect x="574.10" y="494.50" width="11.20" height="20.50" fill="#808080" stroke="#2a2a2a" stroke-width="0.8"/>
<rect x="590.50" y="496.60" width="10.90" height="18.40" fill="#2f5283" stroke="#2a2a2a" stroke-width="0.8"/>
<rect x="606.70" y="495.70" width="11.20" height="19.30" fill="#58aeab" stroke="#2a2a2a" stroke-width="0.8"/>
<rect x="635.10" y="432.80" width="10.90" height="82.20" fill="#808080" stroke="#2a2a2a" stroke-width="0.8"/>
<rect x="651.00" y="478.60" width="10.90" height="36.40" fill="#2f5283" stroke="#2a2a2a" stroke-width="0.8"/>
<rect x="667.20" y="483.10" width="10.80" height="31.90" fill="#58aeab" stroke="#2a2a2a" stroke-width="0.8"/>
<circle cx="575.20" cy="495.30" r="1.75" fill="#fff" stroke="#333" stroke-width="0.6"/>
<circle cx="579.70" cy="492.60" r="1.75" fill="#fff" stroke="#333" stroke-width="0.6"/>
<circle cx="584.20" cy="493.20" r="1.75" fill="#fff" stroke="#333" stroke-width="0.6"/>
<circle cx="591.30" cy="496.80" r="1.75" fill="#fff" stroke="#333" stroke-width="0.6"/>
<circle cx="595.20" cy="494.70" r="1.75" fill="#fff" stroke="#333" stroke-width="0.6"/>
<circle cx="599.70" cy="494.70" r="1.75" fill="#fff" stroke="#333" stroke-width="0.6"/>
<circle cx="607.20" cy="495.30" r="1.75" fill="#fff" stroke="#333" stroke-width="0.6"/>
<circle cx="611.70" cy="494.70" r="1.75" fill="#fff" stroke="#333" stroke-width="0.6"/>
<circle cx="616.20" cy="494.70" r="1.75" fill="#fff" stroke="#333" stroke-width="0.6"/>
<line x1="640.55" y1="426.40" x2="640.55" y2="440.20" stroke="#222" stroke-width="0.8"/>
<line x1="637.80" y1="426.40" x2="643.30" y2="426.40" stroke="#222" stroke-width="0.8"/>
<line x1="637.80" y1="440.20" x2="643.30" y2="440.20" stroke="#222" stroke-width="0.8"/>
<circle cx="640.70" cy="423.50" r="1.75" fill="#fff" stroke="#333" stroke-width="0.6"/>
<circle cx="640.70" cy="426.40" r="1.75" fill="#fff" stroke="#333" stroke-width="0.6"/>
<circle cx="640.70" cy="448.60" r="1.75" fill="#fff" stroke="#333" stroke-width="0.6"/>
<circle cx="653.00" cy="478.20" r="1.75" fill="#fff" stroke="#333" stroke-width="0.6"/>
<circle cx="656.60" cy="474.30" r="1.75" fill="#fff" stroke="#333" stroke-width="0.6"/>
<circle cx="659.60" cy="477.60" r="1.75" fill="#fff" stroke="#333" stroke-width="0.6"/>
<circle cx="668.00" cy="480.30" r="1.75" fill="#fff" stroke="#333" stroke-width="0.6"/>
<circle cx="668.00" cy="482.70" r="1.75" fill="#fff" stroke="#333" stroke-width="0.6"/>
<circle cx="673.10" cy="482.70" r="1.75" fill="#fff" stroke="#333" stroke-width="0.6"/>
<circle cx="677.50" cy="483.30" r="1.75" fill="#fff" stroke="#333" stroke-width="0.6"/>
<line x1="567.40" y1="515.00" x2="685.00" y2="515.00" stroke="#555" stroke-width="1"/>
<line x1="578.80" y1="472.20" x2="609.60" y2="472.20" stroke="#303030" stroke-width="0.85"/>
<text x="593.70" y="467.60" font-size="8.5" text-anchor="middle" fill="#111">ns</text>
<line x1="579.40" y1="486.30" x2="594.30" y2="486.30" stroke="#303030" stroke-width="0.85"/>
<text x="586.90" y="482.00" font-size="8.5" text-anchor="middle" fill="#111">ns</text>
<line x1="639.50" y1="403.40" x2="670.10" y2="403.40" stroke="#303030" stroke-width="0.85"/>
<text x="655.00" y="398.60" font-size="7.5" text-anchor="middle" fill="#111"><tspan font-style="italic">P</tspan> = 0.0058</text>
<line x1="640.10" y1="416.30" x2="655.10" y2="416.30" stroke="#303030" stroke-width="0.85"/>
<text x="647.60" y="412.20" font-size="7.5" text-anchor="middle" fill="#111"><tspan font-style="italic">P</tspan> = 0.0037</text>
<text x="569.00" y="524.10" font-size="8.45" text-anchor="end" fill="#111">Glc</text>
<text x="579.70" y="523.20" font-size="7.435999999999999" text-anchor="middle" fill="#111" style="stroke-width:0.3px">+</text>
<text x="595.95" y="523.20" font-size="7.435999999999999" text-anchor="middle" fill="#111" style="stroke-width:0.3px">+</text>
<text x="612.30" y="523.20" font-size="7.435999999999999" text-anchor="middle" fill="#111" style="stroke-width:0.3px">+</text>
<text x="640.55" y="522.80" font-size="7.435999999999999" text-anchor="middle" fill="#111" style="stroke-width:0.3px">-</text>
<text x="656.45" y="522.80" font-size="7.435999999999999" text-anchor="middle" fill="#111" style="stroke-width:0.3px">-</text>
<text x="672.60" y="522.80" font-size="7.435999999999999" text-anchor="middle" fill="#111" style="stroke-width:0.3px">-</text>
<text x="569.00" y="531.70" font-size="8.45" text-anchor="end" fill="#111">shCtrl</text>
<text x="579.70" y="530.80" font-size="7.435999999999999" text-anchor="middle" fill="#111" style="stroke-width:0.3px">+</text>
<text x="595.95" y="530.40" font-size="7.435999999999999" text-anchor="middle" fill="#111" style="stroke-width:0.3px">-</text>
<text x="612.30" y="530.40" font-size="7.435999999999999" text-anchor="middle" fill="#111" style="stroke-width:0.3px">-</text>
<text x="640.55" y="530.80" font-size="7.435999999999999" text-anchor="middle" fill="#111" style="stroke-width:0.3px">+</text>
<text x="656.45" y="530.40" font-size="7.435999999999999" text-anchor="middle" fill="#111" style="stroke-width:0.3px">-</text>
<text x="672.60" y="530.40" font-size="7.435999999999999" text-anchor="middle" fill="#111" style="stroke-width:0.3px">-</text>
<text x="569.00" y="539.70" font-size="8.45" text-anchor="end" fill="#111">sh<tspan font-style="italic">SMIM4</tspan> #1</text>
<text x="579.70" y="538.40" font-size="7.435999999999999" text-anchor="middle" fill="#111" style="stroke-width:0.3px">-</text>
<text x="595.95" y="538.80" font-size="7.435999999999999" text-anchor="middle" fill="#111" style="stroke-width:0.3px">+</text>
<text x="612.30" y="538.40" font-size="7.435999999999999" text-anchor="middle" fill="#111" style="stroke-width:0.3px">-</text>
<text x="640.55" y="538.40" font-size="7.435999999999999" text-anchor="middle" fill="#111" style="stroke-width:0.3px">-</text>
<text x="656.45" y="538.80" font-size="7.435999999999999" text-anchor="middle" fill="#111" style="stroke-width:0.3px">+</text>
<text x="672.60" y="538.40" font-size="7.435999999999999" text-anchor="middle" fill="#111" style="stroke-width:0.3px">-</text>
<text x="569.00" y="547.70" font-size="8.45" text-anchor="end" fill="#111">sh<tspan font-style="italic">SMIM4</tspan> #2</text>
<text x="579.70" y="546.40" font-size="7.435999999999999" text-anchor="middle" fill="#111" style="stroke-width:0.3px">-</text>
<text x="595.95" y="546.40" font-size="7.435999999999999" text-anchor="middle" fill="#111" style="stroke-width:0.3px">-</text>
<text x="612.30" y="546.80" font-size="7.435999999999999" text-anchor="middle" fill="#111" style="stroke-width:0.3px">+</text>
<text x="640.55" y="546.40" font-size="7.435999999999999" text-anchor="middle" fill="#111" style="stroke-width:0.3px">-</text>
<text x="656.45" y="546.40" font-size="7.435999999999999" text-anchor="middle" fill="#111" style="stroke-width:0.3px">-</text>
<text x="672.60" y="546.80" font-size="7.435999999999999" text-anchor="middle" fill="#111" style="stroke-width:0.3px">+</text>
<text x="1.80" y="596.20" font-size="14" font-weight="bold" fill="#000">K</text>
<line x1="50.40" y1="620.10" x2="50.40" y2="727.00" stroke="#555" stroke-width="1"/>
<line x1="46.40" y1="620.10" x2="50.40" y2="620.10" stroke="#555" stroke-width="1"/>
<text x="45.20" y="623.00" font-size="8.5" text-anchor="end" fill="#111">1.5</text>
<line x1="46.40" y1="655.80" x2="50.40" y2="655.80" stroke="#555" stroke-width="1"/>
<text x="45.20" y="658.70" font-size="8.5" text-anchor="end" fill="#111">1.0</text>
<line x1="46.40" y1="691.40" x2="50.40" y2="691.40" stroke="#555" stroke-width="1"/>
<text x="45.20" y="694.30" font-size="8.5" text-anchor="end" fill="#111">0.5</text>
<line x1="46.40" y1="727.00" x2="50.40" y2="727.00" stroke="#555" stroke-width="1"/>
<text x="45.20" y="729.90" font-size="8.5" text-anchor="end" fill="#111">0.0</text>
<text x="16.75" y="677.60" font-size="9.0" text-anchor="middle" transform="rotate(-90 16.75 677.60)" fill="#111">Relative NADPH/NADP<tspan font-size="6" dy="-3">+</tspan><tspan dy="3"> level</tspan></text>
<text x="27.95" y="677.50" font-size="9.0" text-anchor="middle" transform="rotate(-90 27.95 677.50)" fill="#111">(MIA PaCa-2)</text>
<rect x="57.00" y="656.60" width="10.40" height="70.40" fill="#808080" stroke="#2a2a2a" stroke-width="0.8"/>
<rect x="73.10" y="660.80" width="10.90" height="66.20" fill="#2f5283" stroke="#2a2a2a" stroke-width="0.8"/>
<rect x="89.20" y="654.60" width="10.90" height="72.40" fill="#58aeab" stroke="#2a2a2a" stroke-width="0.8"/>
<rect x="117.80" y="713.70" width="10.80" height="13.30" fill="#808080" stroke="#2a2a2a" stroke-width="0.8"/>
<rect x="133.90" y="684.50" width="10.90" height="42.50" fill="#2f5283" stroke="#2a2a2a" stroke-width="0.8"/>
<rect x="150.10" y="682.70" width="10.80" height="44.30" fill="#58aeab" stroke="#2a2a2a" stroke-width="0.8"/>
<line x1="62.20" y1="652.90" x2="62.20" y2="658.60" stroke="#222" stroke-width="0.8"/>
<line x1="59.45" y1="652.90" x2="64.95" y2="652.90" stroke="#222" stroke-width="0.8"/>
<line x1="59.45" y1="658.60" x2="64.95" y2="658.60" stroke="#222" stroke-width="0.8"/>
<circle cx="62.00" cy="650.50" r="1.75" fill="#fff" stroke="#333" stroke-width="0.6"/>
<circle cx="62.00" cy="656.20" r="1.75" fill="#fff" stroke="#333" stroke-width="0.6"/>
<circle cx="62.00" cy="661.10" r="1.75" fill="#fff" stroke="#333" stroke-width="0.6"/>
<circle cx="74.00" cy="660.40" r="1.75" fill="#fff" stroke="#333" stroke-width="0.6"/>
<circle cx="78.90" cy="658.60" r="1.75" fill="#fff" stroke="#333" stroke-width="0.6"/>
<circle cx="83.10" cy="659.60" r="1.75" fill="#fff" stroke="#333" stroke-width="0.6"/>
<circle cx="91.80" cy="653.40" r="1.75" fill="#fff" stroke="#333" stroke-width="0.6"/>
<circle cx="95.50" cy="654.20" r="1.75" fill="#fff" stroke="#333" stroke-width="0.6"/>
<circle cx="99.30" cy="653.40" r="1.75" fill="#fff" stroke="#333" stroke-width="0.6"/>
<circle cx="119.90" cy="714.10" r="1.75" fill="#fff" stroke="#333" stroke-width="0.6"/>
<circle cx="122.80" cy="712.10" r="1.75" fill="#fff" stroke="#333" stroke-width="0.6"/>
<circle cx="127.80" cy="714.10" r="1.75" fill="#fff" stroke="#333" stroke-width="0.6"/>
<line x1="139.35" y1="680.30" x2="139.35" y2="686.00" stroke="#222" stroke-width="0.8"/>
<line x1="136.60" y1="680.30" x2="142.10" y2="680.30" stroke="#222" stroke-width="0.8"/>
<line x1="136.60" y1="686.00" x2="142.10" y2="686.00" stroke="#222" stroke-width="0.8"/>
<circle cx="139.00" cy="676.90" r="1.75" fill="#fff" stroke="#333" stroke-width="0.6"/>
<circle cx="139.00" cy="684.80" r="1.75" fill="#fff" stroke="#333" stroke-width="0.6"/>
<circle cx="139.00" cy="689.30" r="1.75" fill="#fff" stroke="#333" stroke-width="0.6"/>
<line x1="155.50" y1="677.40" x2="155.50" y2="687.30" stroke="#222" stroke-width="0.8"/>
<line x1="152.75" y1="677.40" x2="158.25" y2="677.40" stroke="#222" stroke-width="0.8"/>
<line x1="152.75" y1="687.30" x2="158.25" y2="687.30" stroke="#222" stroke-width="0.8"/>
<circle cx="155.60" cy="673.60" r="1.75" fill="#fff" stroke="#333" stroke-width="0.6"/>
<circle cx="155.60" cy="678.10" r="1.75" fill="#fff" stroke="#333" stroke-width="0.6"/>
<circle cx="155.60" cy="693.50" r="1.75" fill="#fff" stroke="#333" stroke-width="0.6"/>
<line x1="50.40" y1="727.00" x2="165.00" y2="727.00" stroke="#555" stroke-width="1"/>
<line x1="61.50" y1="630.10" x2="92.30" y2="630.10" stroke="#303030" stroke-width="0.85"/>
<text x="76.90" y="625.50" font-size="8.5" text-anchor="middle" fill="#111">ns</text>
<line x1="62.00" y1="645.00" x2="77.40" y2="645.00" stroke="#303030" stroke-width="0.85"/>
<text x="69.50" y="640.00" font-size="8.5" text-anchor="middle" fill="#111">ns</text>
<line x1="122.80" y1="654.20" x2="153.80" y2="654.20" stroke="#303030" stroke-width="0.85"/>
<text x="138.60" y="649.50" font-size="7.5" text-anchor="middle" fill="#111"><tspan font-style="italic">P</tspan> = 0.0073</text>
<line x1="122.80" y1="668.30" x2="138.50" y2="668.30" stroke="#303030" stroke-width="0.85"/>
<text x="130.60" y="663.60" font-size="7.5" text-anchor="middle" fill="#111"><tspan font-style="italic">P</tspan> = 0.0017</text>
<text x="50.90" y="736.60" font-size="8.4" text-anchor="end" fill="#111">Glc</text>
<text x="62.20" y="735.70" font-size="7.392" text-anchor="middle" fill="#111" style="stroke-width:0.3px">+</text>
<text x="78.55" y="735.70" font-size="7.392" text-anchor="middle" fill="#111" style="stroke-width:0.3px">+</text>
<text x="94.65" y="735.70" font-size="7.392" text-anchor="middle" fill="#111" style="stroke-width:0.3px">+</text>
<text x="123.20" y="735.30" font-size="7.392" text-anchor="middle" fill="#111" style="stroke-width:0.3px">-</text>
<text x="139.35" y="735.30" font-size="7.392" text-anchor="middle" fill="#111" style="stroke-width:0.3px">-</text>
<text x="155.50" y="735.30" font-size="7.392" text-anchor="middle" fill="#111" style="stroke-width:0.3px">-</text>
<text x="50.90" y="744.30" font-size="8.4" text-anchor="end" fill="#111">shCtrl</text>
<text x="62.20" y="743.40" font-size="7.392" text-anchor="middle" fill="#111" style="stroke-width:0.3px">+</text>
<text x="78.55" y="743.00" font-size="7.392" text-anchor="middle" fill="#111" style="stroke-width:0.3px">-</text>
<text x="94.65" y="743.00" font-size="7.392" text-anchor="middle" fill="#111" style="stroke-width:0.3px">-</text>
<text x="123.20" y="743.40" font-size="7.392" text-anchor="middle" fill="#111" style="stroke-width:0.3px">+</text>
<text x="139.35" y="743.00" font-size="7.392" text-anchor="middle" fill="#111" style="stroke-width:0.3px">-</text>
<text x="155.50" y="743.00" font-size="7.392" text-anchor="middle" fill="#111" style="stroke-width:0.3px">-</text>
<text x="50.90" y="752.00" font-size="8.4" text-anchor="end" fill="#111">sh<tspan font-style="italic">SMIM4</tspan> #1</text>
<text x="62.20" y="750.70" font-size="7.392" text-anchor="middle" fill="#111" style="stroke-width:0.3px">-</text>
<text x="78.55" y="751.10" font-size="7.392" text-anchor="middle" fill="#111" style="stroke-width:0.3px">+</text>
<text x="94.65" y="750.70" font-size="7.392" text-anchor="middle" fill="#111" style="stroke-width:0.3px">-</text>
<text x="123.20" y="750.70" font-size="7.392" text-anchor="middle" fill="#111" style="stroke-width:0.3px">-</text>
<text x="139.35" y="751.10" font-size="7.392" text-anchor="middle" fill="#111" style="stroke-width:0.3px">+</text>
<text x="155.50" y="750.70" font-size="7.392" text-anchor="middle" fill="#111" style="stroke-width:0.3px">-</text>
<text x="50.90" y="760.20" font-size="8.4" text-anchor="end" fill="#111">sh<tspan font-style="italic">SMIM4</tspan> #2</text>
<text x="62.20" y="758.90" font-size="7.392" text-anchor="middle" fill="#111" style="stroke-width:0.3px">-</text>
<text x="78.55" y="758.90" font-size="7.392" text-anchor="middle" fill="#111" style="stroke-width:0.3px">-</text>
<text x="94.65" y="759.30" font-size="7.392" text-anchor="middle" fill="#111" style="stroke-width:0.3px">+</text>
<text x="123.20" y="758.90" font-size="7.392" text-anchor="middle" fill="#111" style="stroke-width:0.3px">-</text>
<text x="139.35" y="758.90" font-size="7.392" text-anchor="middle" fill="#111" style="stroke-width:0.3px">-</text>
<text x="155.50" y="759.30" font-size="7.392" text-anchor="middle" fill="#111" style="stroke-width:0.3px">+</text>
<text x="189.20" y="596.20" font-size="14" font-weight="bold" fill="#000">L</text>
<line x1="230.30" y1="622.70" x2="230.30" y2="726.40" stroke="#555" stroke-width="1"/>
<line x1="226.30" y1="622.70" x2="230.30" y2="622.70" stroke="#555" stroke-width="1"/>
<text x="225.10" y="625.60" font-size="8.5" text-anchor="end" fill="#111">1.5</text>
<line x1="226.30" y1="657.20" x2="230.30" y2="657.20" stroke="#555" stroke-width="1"/>
<text x="225.10" y="660.10" font-size="8.5" text-anchor="end" fill="#111">1.0</text>
<line x1="226.30" y1="691.80" x2="230.30" y2="691.80" stroke="#555" stroke-width="1"/>
<text x="225.10" y="694.70" font-size="8.5" text-anchor="end" fill="#111">0.5</text>
<line x1="226.30" y1="726.40" x2="230.30" y2="726.40" stroke="#555" stroke-width="1"/>
<text x="225.10" y="729.30" font-size="8.5" text-anchor="end" fill="#111">0.0</text>
<text x="199.15" y="677.10" font-size="9.0" text-anchor="middle" transform="rotate(-90 199.15 677.10)" fill="#111">Relative GSH/GSSG level</text>
<text x="210.35" y="678.70" font-size="9.0" text-anchor="middle" transform="rotate(-90 210.35 678.70)" fill="#111">(MIA PaCa-2)</text>
<rect x="236.90" y="657.80" width="11.10" height="68.60" fill="#808080" stroke="#2a2a2a" stroke-width="0.8"/>
<rect x="252.80" y="660.80" width="11.10" height="65.60" fill="#2f5283" stroke="#2a2a2a" stroke-width="0.8"/>
<rect x="268.90" y="656.60" width="10.70" height="69.80" fill="#58aeab" stroke="#2a2a2a" stroke-width="0.8"/>
<rect x="296.40" y="706.30" width="11.20" height="20.10" fill="#808080" stroke="#2a2a2a" stroke-width="0.8"/>
<rect x="312.40" y="681.40" width="10.60" height="45.00" fill="#2f5283" stroke="#2a2a2a" stroke-width="0.8"/>
<rect x="327.70" y="672.40" width="11.10" height="54.00" fill="#58aeab" stroke="#2a2a2a" stroke-width="0.8"/>
<line x1="242.45" y1="653.40" x2="242.45" y2="660.40" stroke="#222" stroke-width="0.8"/>
<line x1="239.70" y1="653.40" x2="245.20" y2="653.40" stroke="#222" stroke-width="0.8"/>
<line x1="239.70" y1="660.40" x2="245.20" y2="660.40" stroke="#222" stroke-width="0.8"/>
<circle cx="242.00" cy="651.00" r="1.75" fill="#fff" stroke="#333" stroke-width="0.6"/>
<circle cx="242.00" cy="657.90" r="1.75" fill="#fff" stroke="#333" stroke-width="0.6"/>
<circle cx="242.00" cy="663.60" r="1.75" fill="#fff" stroke="#333" stroke-width="0.6"/>
<line x1="258.35" y1="653.40" x2="258.35" y2="667.80" stroke="#222" stroke-width="0.8"/>
<line x1="255.60" y1="653.40" x2="261.10" y2="653.40" stroke="#222" stroke-width="0.8"/>
<line x1="255.60" y1="667.80" x2="261.10" y2="667.80" stroke="#222" stroke-width="0.8"/>
<circle cx="258.10" cy="646.70" r="1.75" fill="#fff" stroke="#333" stroke-width="0.6"/>
<circle cx="258.10" cy="661.60" r="1.75" fill="#fff" stroke="#333" stroke-width="0.6"/>
<circle cx="258.10" cy="669.10" r="1.75" fill="#fff" stroke="#333" stroke-width="0.6"/>
<line x1="274.25" y1="651.70" x2="274.25" y2="659.60" stroke="#222" stroke-width="0.8"/>
<line x1="271.50" y1="651.70" x2="277.00" y2="651.70" stroke="#222" stroke-width="0.8"/>
<line x1="271.50" y1="659.60" x2="277.00" y2="659.60" stroke="#222" stroke-width="0.8"/>
<circle cx="269.30" cy="651.20" r="1.75" fill="#fff" stroke="#333" stroke-width="0.6"/>
<circle cx="278.70" cy="652.20" r="1.75" fill="#fff" stroke="#333" stroke-width="0.6"/>
<circle cx="274.20" cy="664.10" r="1.75" fill="#fff" stroke="#333" stroke-width="0.6"/>
<line x1="302.00" y1="701.80" x2="302.00" y2="709.50" stroke="#222" stroke-width="0.8"/>
<line x1="299.25" y1="701.80" x2="304.75" y2="701.80" stroke="#222" stroke-width="0.8"/>
<line x1="299.25" y1="709.50" x2="304.75" y2="709.50" stroke="#222" stroke-width="0.8"/>
<circle cx="302.00" cy="696.10" r="1.75" fill="#fff" stroke="#333" stroke-width="0.6"/>
<circle cx="302.00" cy="708.50" r="1.75" fill="#fff" stroke="#333" stroke-width="0.6"/>
<circle cx="302.00" cy="711.90" r="1.75" fill="#fff" stroke="#333" stroke-width="0.6"/>
<circle cx="313.20" cy="679.00" r="1.75" fill="#fff" stroke="#333" stroke-width="0.6"/>
<circle cx="317.60" cy="681.00" r="1.75" fill="#fff" stroke="#333" stroke-width="0.6"/>
<circle cx="321.90" cy="681.00" r="1.75" fill="#fff" stroke="#333" stroke-width="0.6"/>
<circle cx="314.40" cy="684.00" r="1.75" fill="#fff" stroke="#333" stroke-width="0.6"/>
<line x1="333.25" y1="667.80" x2="333.25" y2="676.00" stroke="#222" stroke-width="0.8"/>
<line x1="330.50" y1="667.80" x2="336.00" y2="667.80" stroke="#222" stroke-width="0.8"/>
<line x1="330.50" y1="676.00" x2="336.00" y2="676.00" stroke="#222" stroke-width="0.8"/>
<circle cx="333.30" cy="665.30" r="1.75" fill="#fff" stroke="#333" stroke-width="0.6"/>
<circle cx="328.80" cy="673.50" r="1.75" fill="#fff" stroke="#333" stroke-width="0.6"/>
<circle cx="337.50" cy="673.50" r="1.75" fill="#fff" stroke="#333" stroke-width="0.6"/>
<line x1="230.30" y1="726.40" x2="345.00" y2="726.40" stroke="#555" stroke-width="1"/>
<line x1="242.00" y1="623.70" x2="271.70" y2="623.70" stroke="#303030" stroke-width="0.85"/>
<text x="256.40" y="619.30" font-size="8.5" text-anchor="middle" fill="#111">ns</text>
<line x1="242.00" y1="638.10" x2="256.80" y2="638.10" stroke="#303030" stroke-width="0.85"/>
<text x="249.40" y="633.70" font-size="8.5" text-anchor="middle" fill="#111">ns</text>
<line x1="301.00" y1="655.90" x2="331.80" y2="655.90" stroke="#303030" stroke-width="0.85"/>
<text x="316.50" y="650.90" font-size="7.5" text-anchor="middle" fill="#111"><tspan font-style="italic">P</tspan> = 0.0032</text>
<line x1="301.50" y1="669.10" x2="316.40" y2="669.10" stroke="#303030" stroke-width="0.85"/>
<text x="309.00" y="665.00" font-size="7.5" text-anchor="middle" fill="#111"><tspan font-style="italic">P</tspan> = 0.0063</text>
<text x="232.00" y="735.60" font-size="8.35" text-anchor="end" fill="#111">Glc</text>
<text x="242.45" y="734.70" font-size="7.348" text-anchor="middle" fill="#111" style="stroke-width:0.3px">+</text>
<text x="258.35" y="734.70" font-size="7.348" text-anchor="middle" fill="#111" style="stroke-width:0.3px">+</text>
<text x="274.25" y="734.70" font-size="7.348" text-anchor="middle" fill="#111" style="stroke-width:0.3px">+</text>
<text x="302.00" y="734.30" font-size="7.348" text-anchor="middle" fill="#111" style="stroke-width:0.3px">-</text>
<text x="317.70" y="734.30" font-size="7.348" text-anchor="middle" fill="#111" style="stroke-width:0.3px">-</text>
<text x="333.25" y="734.30" font-size="7.348" text-anchor="middle" fill="#111" style="stroke-width:0.3px">-</text>
<text x="232.00" y="743.00" font-size="8.35" text-anchor="end" fill="#111">shCtrl</text>
<text x="242.45" y="742.10" font-size="7.348" text-anchor="middle" fill="#111" style="stroke-width:0.3px">+</text>
<text x="258.35" y="741.70" font-size="7.348" text-anchor="middle" fill="#111" style="stroke-width:0.3px">-</text>
<text x="274.25" y="741.70" font-size="7.348" text-anchor="middle" fill="#111" style="stroke-width:0.3px">-</text>
<text x="302.00" y="742.10" font-size="7.348" text-anchor="middle" fill="#111" style="stroke-width:0.3px">+</text>
<text x="317.70" y="741.70" font-size="7.348" text-anchor="middle" fill="#111" style="stroke-width:0.3px">-</text>
<text x="333.25" y="741.70" font-size="7.348" text-anchor="middle" fill="#111" style="stroke-width:0.3px">-</text>
<text x="232.00" y="750.70" font-size="8.35" text-anchor="end" fill="#111">sh<tspan font-style="italic">SMIM4</tspan> #1</text>
<text x="242.45" y="749.40" font-size="7.348" text-anchor="middle" fill="#111" style="stroke-width:0.3px">-</text>
<text x="258.35" y="749.80" font-size="7.348" text-anchor="middle" fill="#111" style="stroke-width:0.3px">+</text>
<text x="274.25" y="749.40" font-size="7.348" text-anchor="middle" fill="#111" style="stroke-width:0.3px">-</text>
<text x="302.00" y="749.40" font-size="7.348" text-anchor="middle" fill="#111" style="stroke-width:0.3px">-</text>
<text x="317.70" y="749.80" font-size="7.348" text-anchor="middle" fill="#111" style="stroke-width:0.3px">+</text>
<text x="333.25" y="749.40" font-size="7.348" text-anchor="middle" fill="#111" style="stroke-width:0.3px">-</text>
<text x="232.00" y="758.50" font-size="8.35" text-anchor="end" fill="#111">sh<tspan font-style="italic">SMIM4</tspan> #2</text>
<text x="242.45" y="757.20" font-size="7.348" text-anchor="middle" fill="#111" style="stroke-width:0.3px">-</text>
<text x="258.35" y="757.20" font-size="7.348" text-anchor="middle" fill="#111" style="stroke-width:0.3px">-</text>
<text x="274.25" y="757.60" font-size="7.348" text-anchor="middle" fill="#111" style="stroke-width:0.3px">+</text>
<text x="302.00" y="757.20" font-size="7.348" text-anchor="middle" fill="#111" style="stroke-width:0.3px">-</text>
<text x="317.70" y="757.20" font-size="7.348" text-anchor="middle" fill="#111" style="stroke-width:0.3px">-</text>
<text x="333.25" y="757.60" font-size="7.348" text-anchor="middle" fill="#111" style="stroke-width:0.3px">+</text>
<text x="347.30" y="596.20" font-size="14" font-weight="bold" fill="#000">M</text>
<line x1="397.60" y1="622.70" x2="397.60" y2="726.20" stroke="#555" stroke-width="1"/>
<line x1="393.60" y1="622.70" x2="397.60" y2="622.70" stroke="#555" stroke-width="1"/>
<text x="392.40" y="625.60" font-size="8.5" text-anchor="end" fill="#111">1.5</text>
<line x1="393.60" y1="657.20" x2="397.60" y2="657.20" stroke="#555" stroke-width="1"/>
<text x="392.40" y="660.10" font-size="8.5" text-anchor="end" fill="#111">1.0</text>
<line x1="393.60" y1="691.70" x2="397.60" y2="691.70" stroke="#555" stroke-width="1"/>
<text x="392.40" y="694.60" font-size="8.5" text-anchor="end" fill="#111">0.5</text>
<line x1="393.60" y1="726.20" x2="397.60" y2="726.20" stroke="#555" stroke-width="1"/>
<text x="392.40" y="729.10" font-size="8.5" text-anchor="end" fill="#111">0.0</text>
<text x="369.15" y="677.00" font-size="9.0" text-anchor="middle" transform="rotate(-90 369.15 677.00)" fill="#111">Relative cell number</text>
<text x="379.85" y="677.50" font-size="9.0" text-anchor="middle" transform="rotate(-90 379.85 677.50)" fill="#111">(MIA PaCa-2)</text>
<rect x="404.20" y="694.30" width="11.10" height="31.90" fill="#808080" stroke="#2a2a2a" stroke-width="0.8"/>
<rect x="420.30" y="688.10" width="11.10" height="38.10" fill="#2f5283" stroke="#2a2a2a" stroke-width="0.8"/>
<rect x="436.70" y="684.40" width="10.90" height="41.80" fill="#58aeab" stroke="#2a2a2a" stroke-width="0.8"/>
<rect x="462.00" y="673.90" width="11.10" height="52.30" fill="#808080" stroke="#2a2a2a" stroke-width="0.8"/>
<rect x="478.40" y="671.20" width="10.80" height="55.00" fill="#2f5283" stroke="#2a2a2a" stroke-width="0.8"/>
<rect x="494.20" y="674.90" width="11.20" height="51.30" fill="#58aeab" stroke="#2a2a2a" stroke-width="0.8"/>
<circle cx="405.00" cy="693.90" r="1.75" fill="#fff" stroke="#333" stroke-width="0.6"/>
<circle cx="410.00" cy="691.40" r="1.75" fill="#fff" stroke="#333" stroke-width="0.6"/>
<circle cx="414.00" cy="693.90" r="1.75" fill="#fff" stroke="#333" stroke-width="0.6"/>
<circle cx="421.40" cy="688.20" r="1.75" fill="#fff" stroke="#333" stroke-width="0.6"/>
<circle cx="425.60" cy="686.90" r="1.75" fill="#fff" stroke="#333" stroke-width="0.6"/>
<circle cx="429.80" cy="686.90" r="1.75" fill="#fff" stroke="#333" stroke-width="0.6"/>
<circle cx="437.50" cy="684.00" r="1.75" fill="#fff" stroke="#333" stroke-width="0.6"/>
<circle cx="442.20" cy="683.50" r="1.75" fill="#fff" stroke="#333" stroke-width="0.6"/>
<circle cx="446.70" cy="684.00" r="1.75" fill="#fff" stroke="#333" stroke-width="0.6"/>
<line x1="467.55" y1="669.10" x2="467.55" y2="677.80" stroke="#222" stroke-width="0.8"/>
<line x1="464.80" y1="669.10" x2="470.30" y2="669.10" stroke="#222" stroke-width="0.8"/>
<line x1="464.80" y1="677.80" x2="470.30" y2="677.80" stroke="#222" stroke-width="0.8"/>
<circle cx="467.00" cy="665.30" r="1.75" fill="#fff" stroke="#333" stroke-width="0.6"/>
<circle cx="462.80" cy="676.50" r="1.75" fill="#fff" stroke="#333" stroke-width="0.6"/>
<circle cx="471.50" cy="676.50" r="1.75" fill="#fff" stroke="#333" stroke-width="0.6"/>
<line x1="483.80" y1="668.30" x2="483.80" y2="672.00" stroke="#222" stroke-width="0.8"/>
<line x1="481.05" y1="668.30" x2="486.55" y2="668.30" stroke="#222" stroke-width="0.8"/>
<line x1="481.05" y1="672.00" x2="486.55" y2="672.00" stroke="#222" stroke-width="0.8"/>
<circle cx="479.70" cy="667.80" r="1.75" fill="#fff" stroke="#333" stroke-width="0.6"/>
<circle cx="488.10" cy="669.10" r="1.75" fill="#fff" stroke="#333" stroke-width="0.6"/>
<circle cx="483.90" cy="674.50" r="1.75" fill="#fff" stroke="#333" stroke-width="0.6"/>
<line x1="499.80" y1="672.80" x2="499.80" y2="675.50" stroke="#222" stroke-width="0.8"/>
<line x1="497.05" y1="672.80" x2="502.55" y2="672.80" stroke="#222" stroke-width="0.8"/>
<line x1="497.05" y1="675.50" x2="502.55" y2="675.50" stroke="#222" stroke-width="0.8"/>
<circle cx="500.00" cy="670.80" r="1.75" fill="#fff" stroke="#333" stroke-width="0.6"/>
<circle cx="495.80" cy="677.80" r="1.75" fill="#fff" stroke="#333" stroke-width="0.6"/>
<circle cx="504.30" cy="676.00" r="1.75" fill="#fff" stroke="#333" stroke-width="0.6"/>
<line x1="397.60" y1="726.20" x2="506.00" y2="726.20" stroke="#555" stroke-width="1"/>
<line x1="410.00" y1="664.60" x2="440.00" y2="664.60" stroke="#303030" stroke-width="0.85"/>
<text x="424.60" y="660.00" font-size="7.5" text-anchor="middle" fill="#111"><tspan font-style="italic">P</tspan> = 0.0009</text>
<line x1="410.20" y1="680.20" x2="425.60" y2="680.20" stroke="#303030" stroke-width="0.85"/>
<text x="417.80" y="675.20" font-size="7.5" text-anchor="middle" fill="#111"><tspan font-style="italic">P</tspan> = 0.0057</text>
<line x1="467.80" y1="644.30" x2="497.60" y2="644.30" stroke="#303030" stroke-width="0.85"/>
<text x="482.70" y="640.20" font-size="7.8" text-anchor="middle" fill="#111">ns</text>
<line x1="468.30" y1="659.10" x2="483.20" y2="659.10" stroke="#303030" stroke-width="0.85"/>
<text x="475.20" y="654.80" font-size="7.8" text-anchor="middle" fill="#111">ns</text>
<text x="398.30" y="734.90" font-size="8.3" text-anchor="end" fill="#111">NAC</text>
<text x="409.75" y="733.60" font-size="7.304" text-anchor="middle" fill="#111" style="stroke-width:0.3px">-</text>
<text x="425.85" y="733.60" font-size="7.304" text-anchor="middle" fill="#111" style="stroke-width:0.3px">-</text>
<text x="442.15" y="733.60" font-size="7.304" text-anchor="middle" fill="#111" style="stroke-width:0.3px">-</text>
<text x="467.55" y="734.00" font-size="7.304" text-anchor="middle" fill="#111" style="stroke-width:0.3px">+</text>
<text x="483.80" y="734.00" font-size="7.304" text-anchor="middle" fill="#111" style="stroke-width:0.3px">+</text>
<text x="499.80" y="734.00" font-size="7.304" text-anchor="middle" fill="#111" style="stroke-width:0.3px">+</text>
<text x="398.30" y="742.30" font-size="8.3" text-anchor="end" fill="#111">shCtrl</text>
<text x="409.75" y="741.40" font-size="7.304" text-anchor="middle" fill="#111" style="stroke-width:0.3px">+</text>
<text x="425.85" y="741.00" font-size="7.304" text-anchor="middle" fill="#111" style="stroke-width:0.3px">-</text>
<text x="442.15" y="741.00" font-size="7.304" text-anchor="middle" fill="#111" style="stroke-width:0.3px">-</text>
<text x="467.55" y="741.40" font-size="7.304" text-anchor="middle" fill="#111" style="stroke-width:0.3px">+</text>
<text x="483.80" y="741.00" font-size="7.304" text-anchor="middle" fill="#111" style="stroke-width:0.3px">-</text>
<text x="499.80" y="741.00" font-size="7.304" text-anchor="middle" fill="#111" style="stroke-width:0.3px">-</text>
<text x="398.30" y="750.20" font-size="8.3" text-anchor="end" fill="#111">sh<tspan font-style="italic">SMIM4</tspan> #1</text>
<text x="409.75" y="748.90" font-size="7.304" text-anchor="middle" fill="#111" style="stroke-width:0.3px">-</text>
<text x="425.85" y="749.30" font-size="7.304" text-anchor="middle" fill="#111" style="stroke-width:0.3px">+</text>
<text x="442.15" y="748.90" font-size="7.304" text-anchor="middle" fill="#111" style="stroke-width:0.3px">-</text>
<text x="467.55" y="748.90" font-size="7.304" text-anchor="middle" fill="#111" style="stroke-width:0.3px">-</text>
<text x="483.80" y="749.30" font-size="7.304" text-anchor="middle" fill="#111" style="stroke-width:0.3px">+</text>
<text x="499.80" y="748.90" font-size="7.304" text-anchor="middle" fill="#111" style="stroke-width:0.3px">-</text>
<text x="398.30" y="757.50" font-size="8.3" text-anchor="end" fill="#111">sh<tspan font-style="italic">SMIM4</tspan> #2</text>
<text x="409.75" y="756.20" font-size="7.304" text-anchor="middle" fill="#111" style="stroke-width:0.3px">-</text>
<text x="425.85" y="756.20" font-size="7.304" text-anchor="middle" fill="#111" style="stroke-width:0.3px">-</text>
<text x="442.15" y="756.60" font-size="7.304" text-anchor="middle" fill="#111" style="stroke-width:0.3px">+</text>
<text x="467.55" y="756.20" font-size="7.304" text-anchor="middle" fill="#111" style="stroke-width:0.3px">-</text>
<text x="483.80" y="756.20" font-size="7.304" text-anchor="middle" fill="#111" style="stroke-width:0.3px">-</text>
<text x="499.80" y="756.60" font-size="7.304" text-anchor="middle" fill="#111" style="stroke-width:0.3px">+</text>
<text x="517.00" y="595.80" font-size="14" font-weight="bold" fill="#000">N</text>
<line x1="567.50" y1="623.40" x2="567.50" y2="726.80" stroke="#555" stroke-width="1"/>
<line x1="563.50" y1="623.40" x2="567.50" y2="623.40" stroke="#555" stroke-width="1"/>
<text x="562.30" y="626.30" font-size="8.5" text-anchor="end" fill="#111">1.5</text>
<line x1="563.50" y1="657.90" x2="567.50" y2="657.90" stroke="#555" stroke-width="1"/>
<text x="562.30" y="660.80" font-size="8.5" text-anchor="end" fill="#111">1.0</text>
<line x1="563.50" y1="692.30" x2="567.50" y2="692.30" stroke="#555" stroke-width="1"/>
<text x="562.30" y="695.20" font-size="8.5" text-anchor="end" fill="#111">0.5</text>
<line x1="563.50" y1="726.80" x2="567.50" y2="726.80" stroke="#555" stroke-width="1"/>
<text x="562.30" y="729.70" font-size="8.5" text-anchor="end" fill="#111">0.0</text>
<text x="539.45" y="677.00" font-size="9.0" text-anchor="middle" transform="rotate(-90 539.45 677.00)" fill="#111">Relative cell number</text>
<text x="550.15" y="677.50" font-size="9.0" text-anchor="middle" transform="rotate(-90 550.15 677.50)" fill="#111">(MIA PaCa-2)</text>
<rect x="574.30" y="693.10" width="11.20" height="33.70" fill="#808080" stroke="#2a2a2a" stroke-width="0.8"/>
<rect x="590.40" y="672.40" width="10.70" height="54.40" fill="#2f5283" stroke="#2a2a2a" stroke-width="0.8"/>
<rect x="606.70" y="669.80" width="10.70" height="57.00" fill="#58aeab" stroke="#2a2a2a" stroke-width="0.8"/>
<rect x="631.50" y="675.20" width="11.00" height="51.60" fill="#808080" stroke="#2a2a2a" stroke-width="0.8"/>
<rect x="647.90" y="672.40" width="10.70" height="54.40" fill="#2f5283" stroke="#2a2a2a" stroke-width="0.8"/>
<rect x="663.70" y="673.10" width="11.20" height="53.70" fill="#58aeab" stroke="#2a2a2a" stroke-width="0.8"/>
<line x1="579.90" y1="689.40" x2="579.90" y2="695.00" stroke="#222" stroke-width="0.8"/>
<line x1="577.15" y1="689.40" x2="582.65" y2="689.40" stroke="#222" stroke-width="0.8"/>
<line x1="577.15" y1="695.00" x2="582.65" y2="695.00" stroke="#222" stroke-width="0.8"/>
<circle cx="579.50" cy="686.80" r="1.75" fill="#fff" stroke="#333" stroke-width="0.6"/>
<circle cx="579.50" cy="692.40" r="1.75" fill="#fff" stroke="#333" stroke-width="0.6"/>
<circle cx="579.50" cy="697.50" r="1.75" fill="#fff" stroke="#333" stroke-width="0.6"/>
<circle cx="591.20" cy="672.70" r="1.75" fill="#fff" stroke="#333" stroke-width="0.6"/>
<circle cx="595.60" cy="670.70" r="1.75" fill="#fff" stroke="#333" stroke-width="0.6"/>
<circle cx="599.90" cy="672.00" r="1.75" fill="#fff" stroke="#333" stroke-width="0.6"/>
<line x1="612.05" y1="666.90" x2="612.05" y2="671.00" stroke="#222" stroke-width="0.8"/>
<line x1="609.30" y1="666.90" x2="614.80" y2="666.90" stroke="#222" stroke-width="0.8"/>
<line x1="609.30" y1="671.00" x2="614.80" y2="671.00" stroke="#222" stroke-width="0.8"/>
<circle cx="607.90" cy="664.30" r="1.75" fill="#fff" stroke="#333" stroke-width="0.6"/>
<circle cx="615.30" cy="667.10" r="1.75" fill="#fff" stroke="#333" stroke-width="0.6"/>
<circle cx="612.20" cy="674.00" r="1.75" fill="#fff" stroke="#333" stroke-width="0.6"/>
<line x1="637.00" y1="670.20" x2="637.00" y2="679.10" stroke="#222" stroke-width="0.8"/>
<line x1="634.25" y1="670.20" x2="639.75" y2="670.20" stroke="#222" stroke-width="0.8"/>
<line x1="634.25" y1="679.10" x2="639.75" y2="679.10" stroke="#222" stroke-width="0.8"/>
<circle cx="632.60" cy="667.60" r="1.75" fill="#fff" stroke="#333" stroke-width="0.6"/>
<circle cx="641.60" cy="670.70" r="1.75" fill="#fff" stroke="#333" stroke-width="0.6"/>
<circle cx="637.00" cy="685.00" r="1.75" fill="#fff" stroke="#333" stroke-width="0.6"/>
<line x1="653.25" y1="668.90" x2="653.25" y2="674.00" stroke="#222" stroke-width="0.8"/>
<line x1="650.50" y1="668.90" x2="656.00" y2="668.90" stroke="#222" stroke-width="0.8"/>
<line x1="650.50" y1="674.00" x2="656.00" y2="674.00" stroke="#222" stroke-width="0.8"/>
<circle cx="653.60" cy="667.10" r="1.75" fill="#fff" stroke="#333" stroke-width="0.6"/>
<circle cx="649.20" cy="674.00" r="1.75" fill="#fff" stroke="#333" stroke-width="0.6"/>
<circle cx="657.70" cy="674.00" r="1.75" fill="#fff" stroke="#333" stroke-width="0.6"/>
<circle cx="665.10" cy="670.70" r="1.75" fill="#fff" stroke="#333" stroke-width="0.6"/>
<circle cx="668.90" cy="672.00" r="1.75" fill="#fff" stroke="#333" stroke-width="0.6"/>
<circle cx="673.50" cy="672.70" r="1.75" fill="#fff" stroke="#333" stroke-width="0.6"/>
<circle cx="665.10" cy="674.00" r="1.75" fill="#fff" stroke="#333" stroke-width="0.6"/>
<line x1="567.50" y1="726.80" x2="677.40" y2="726.80" stroke="#555" stroke-width="1"/>
<line x1="580.30" y1="647.20" x2="610.20" y2="647.20" stroke="#303030" stroke-width="0.85"/>
<text x="595.30" y="642.90" font-size="7.5" text-anchor="middle" fill="#111"><tspan font-style="italic">P</tspan> = 0.0040</text>
<line x1="580.30" y1="662.50" x2="595.60" y2="662.50" stroke="#303030" stroke-width="0.85"/>
<text x="588.20" y="658.30" font-size="7.5" text-anchor="middle" fill="#111"><tspan font-style="italic">P</tspan> = 0.0023</text>
<line x1="637.70" y1="644.10" x2="667.60" y2="644.10" stroke="#303030" stroke-width="0.85"/>
<text x="652.60" y="640.00" font-size="7.8" text-anchor="middle" fill="#111">ns</text>
<line x1="637.70" y1="658.70" x2="653.10" y2="658.70" stroke="#303030" stroke-width="0.85"/>
<text x="645.40" y="654.30" font-size="7.8" text-anchor="middle" fill="#111">ns</text>
<text x="568.50" y="734.90" font-size="8.3" text-anchor="end" fill="#111">GSH</text>
<text x="579.90" y="733.60" font-size="7.304" text-anchor="middle" fill="#111" style="stroke-width:0.3px">-</text>
<text x="595.75" y="733.60" font-size="7.304" text-anchor="middle" fill="#111" style="stroke-width:0.3px">-</text>
<text x="612.05" y="733.60" font-size="7.304" text-anchor="middle" fill="#111" style="stroke-width:0.3px">-</text>
<text x="637.00" y="734.00" font-size="7.304" text-anchor="middle" fill="#111" style="stroke-width:0.3px">+</text>
<text x="653.25" y="734.00" font-size="7.304" text-anchor="middle" fill="#111" style="stroke-width:0.3px">+</text>
<text x="669.30" y="734.00" font-size="7.304" text-anchor="middle" fill="#111" style="stroke-width:0.3px">+</text>
<text x="568.50" y="742.30" font-size="8.3" text-anchor="end" fill="#111">shCtrl</text>
<text x="579.90" y="741.40" font-size="7.304" text-anchor="middle" fill="#111" style="stroke-width:0.3px">+</text>
<text x="595.75" y="741.00" font-size="7.304" text-anchor="middle" fill="#111" style="stroke-width:0.3px">-</text>
<text x="612.05" y="741.00" font-size="7.304" text-anchor="middle" fill="#111" style="stroke-width:0.3px">-</text>
<text x="637.00" y="741.40" font-size="7.304" text-anchor="middle" fill="#111" style="stroke-width:0.3px">+</text>
<text x="653.25" y="741.00" font-size="7.304" text-anchor="middle" fill="#111" style="stroke-width:0.3px">-</text>
<text x="669.30" y="741.00" font-size="7.304" text-anchor="middle" fill="#111" style="stroke-width:0.3px">-</text>
<text x="568.50" y="750.20" font-size="8.3" text-anchor="end" fill="#111">sh<tspan font-style="italic">SMIM4</tspan> #1</text>
<text x="579.90" y="748.90" font-size="7.304" text-anchor="middle" fill="#111" style="stroke-width:0.3px">-</text>
<text x="595.75" y="749.30" font-size="7.304" text-anchor="middle" fill="#111" style="stroke-width:0.3px">+</text>
<text x="612.05" y="748.90" font-size="7.304" text-anchor="middle" fill="#111" style="stroke-width:0.3px">-</text>
<text x="637.00" y="748.90" font-size="7.304" text-anchor="middle" fill="#111" style="stroke-width:0.3px">-</text>
<text x="653.25" y="749.30" font-size="7.304" text-anchor="middle" fill="#111" style="stroke-width:0.3px">+</text>
<text x="669.30" y="748.90" font-size="7.304" text-anchor="middle" fill="#111" style="stroke-width:0.3px">-</text>
<text x="568.50" y="757.50" font-size="8.3" text-anchor="end" fill="#111">sh<tspan font-style="italic">SMIM4</tspan> #2</text>
<text x="579.90" y="756.20" font-size="7.304" text-anchor="middle" fill="#111" style="stroke-width:0.3px">-</text>
<text x="595.75" y="756.20" font-size="7.304" text-anchor="middle" fill="#111" style="stroke-width:0.3px">-</text>
<text x="612.05" y="756.60" font-size="7.304" text-anchor="middle" fill="#111" style="stroke-width:0.3px">+</text>
<text x="637.00" y="756.20" font-size="7.304" text-anchor="middle" fill="#111" style="stroke-width:0.3px">-</text>
<text x="653.25" y="756.20" font-size="7.304" text-anchor="middle" fill="#111" style="stroke-width:0.3px">-</text>
<text x="669.30" y="756.60" font-size="7.304" text-anchor="middle" fill="#111" style="stroke-width:0.3px">+</text>
<text x="2.20" y="793.80" font-size="14" font-weight="bold" fill="#000">O</text>
<text x="100.30" y="829.90" font-size="11.4" text-anchor="middle" fill="#111">Reduced Glutathione(GSH)</text>
<text x="105.90" y="921.80" font-size="11.4" text-anchor="middle" fill="#111">Oxidized Glutathione(GSSG)</text>
<line x1="91.10" y1="903.00" x2="91.10" y2="842.50" stroke="#111" stroke-width="0.9"/>
<path d="M91.1 838.8 L88.9 844.5 L93.3 844.5 Z" fill="#111"/>
<line x1="101.60" y1="843.20" x2="101.60" y2="899.50" stroke="#111" stroke-width="0.9"/>
<path d="M101.6 903.3 L99.4 897.6 L103.8 897.6 Z" fill="#111"/>
<path d="M71.5 895.5 C 86 894, 91 880, 90.2 871 C 89.5 860, 84 851, 77.5 848.5" fill="none" stroke="#111" stroke-width="0.8"/>
<path d="M74.0 847.0 L79.6 846.9 L77.6 851.3 Z" fill="#111"/>
<path d="M122.6 846.3 C 110 847, 102.5 858, 102.3 870.5 C 102.2 882, 110 892, 120.5 893.6" fill="none" stroke="#111" stroke-width="0.8"/>
<path d="M124.6 893.9 L119.5 891.4 L119.1 896.3 Z" fill="#111"/>
<text x="43.80" y="850.60" font-size="8.6" fill="#111">NADP<tspan font-size="5.6" dy="-3.2">+</tspan></text>
<text x="26.90" y="898.90" font-size="8.6" fill="#111">NADPH/H<tspan font-size="5.6" dy="-3.2">+</tspan></text>
<text x="62.80" y="874.00" font-size="10" text-anchor="middle" fill="#111">GSR</text>
<text x="121.50" y="874.00" font-size="10" text-anchor="middle" fill="#111">GPX</text>
<text x="127.60" y="850.30" font-size="8.6" fill="#111">H<tspan font-size="6" dy="1.6">2</tspan><tspan dy="-1.6">O</tspan><tspan font-size="6" dy="1.6">2</tspan></text>
<text x="125.50" y="897.40" font-size="8.6" fill="#111">H<tspan font-size="6" dy="1.6">2</tspan><tspan dy="-1.6">O</tspan></text>
<text x="216.20" y="793.80" font-size="14" font-weight="bold" fill="#000">P</text>
<text x="293.90" y="809.20" font-size="8.4" text-anchor="middle" font-style="italic" fill="#111">GSR</text>
<line x1="259.30" y1="816.60" x2="259.30" y2="916.70" stroke="#555" stroke-width="1"/>
<line x1="255.30" y1="816.60" x2="259.30" y2="816.60" stroke="#555" stroke-width="1"/>
<text x="254.10" y="819.50" font-size="8.3" text-anchor="end" fill="#111">1.5</text>
<line x1="255.30" y1="850.20" x2="259.30" y2="850.20" stroke="#555" stroke-width="1"/>
<text x="254.10" y="853.10" font-size="8.3" text-anchor="end" fill="#111">1.0</text>
<line x1="255.30" y1="883.50" x2="259.30" y2="883.50" stroke="#555" stroke-width="1"/>
<text x="254.10" y="886.40" font-size="8.3" text-anchor="end" fill="#111">0.5</text>
<line x1="255.30" y1="916.90" x2="259.30" y2="916.90" stroke="#555" stroke-width="1"/>
<text x="254.10" y="919.80" font-size="8.3" text-anchor="end" fill="#111">0.0</text>
<text x="228.16" y="863.20" font-size="9.6" text-anchor="middle" transform="rotate(-90 228.16 863.20)" fill="#111">Relative mRNA level</text>
<text x="240.26" y="864.90" font-size="9.6" text-anchor="middle" transform="rotate(-90 240.26 864.90)" fill="#111">(MIA PaCa-2)</text>
<rect x="264.80" y="851.00" width="9.40" height="65.70" fill="#808080" stroke="#2a2a2a" stroke-width="0.8"/>
<rect x="279.40" y="905.30" width="9.30" height="11.40" fill="#2f5283" stroke="#2a2a2a" stroke-width="0.8"/>
<rect x="303.60" y="851.00" width="9.60" height="65.70" fill="#808080" stroke="#2a2a2a" stroke-width="0.8"/>
<rect x="318.30" y="871.60" width="9.00" height="45.10" fill="#2f5283" stroke="#2a2a2a" stroke-width="0.8"/>
<circle cx="266.50" cy="850.60" r="1.75" fill="#fff" stroke="#333" stroke-width="0.6"/>
<circle cx="269.50" cy="850.60" r="1.75" fill="#fff" stroke="#333" stroke-width="0.6"/>
<circle cx="272.50" cy="850.60" r="1.75" fill="#fff" stroke="#333" stroke-width="0.6"/>
<line x1="284.05" y1="902.40" x2="284.05" y2="907.00" stroke="#222" stroke-width="0.8"/>
<line x1="281.30" y1="902.40" x2="286.80" y2="902.40" stroke="#222" stroke-width="0.8"/>
<line x1="281.30" y1="907.00" x2="286.80" y2="907.00" stroke="#222" stroke-width="0.8"/>
<circle cx="284.10" cy="899.20" r="1.75" fill="#fff" stroke="#333" stroke-width="0.6"/>
<circle cx="280.90" cy="908.70" r="1.75" fill="#fff" stroke="#333" stroke-width="0.6"/>
<circle cx="287.70" cy="907.20" r="1.75" fill="#fff" stroke="#333" stroke-width="0.6"/>
<circle cx="305.50" cy="850.60" r="1.75" fill="#fff" stroke="#333" stroke-width="0.6"/>
<circle cx="308.50" cy="850.60" r="1.75" fill="#fff" stroke="#333" stroke-width="0.6"/>
<circle cx="311.50" cy="850.60" r="1.75" fill="#fff" stroke="#333" stroke-width="0.6"/>
<line x1="322.80" y1="865.70" x2="322.80" y2="875.90" stroke="#222" stroke-width="0.8"/>
<line x1="320.05" y1="865.70" x2="325.55" y2="865.70" stroke="#222" stroke-width="0.8"/>
<line x1="320.05" y1="875.90" x2="325.55" y2="875.90" stroke="#222" stroke-width="0.8"/>
<circle cx="322.60" cy="862.20" r="1.75" fill="#fff" stroke="#333" stroke-width="0.6"/>
<circle cx="322.60" cy="871.20" r="1.75" fill="#fff" stroke="#333" stroke-width="0.6"/>
<circle cx="322.60" cy="879.60" r="1.75" fill="#fff" stroke="#333" stroke-width="0.6"/>
<line x1="259.30" y1="916.70" x2="332.70" y2="916.70" stroke="#555" stroke-width="1"/>
<line x1="270.00" y1="840.70" x2="284.10" y2="840.70" stroke="#303030" stroke-width="0.85"/>
<text x="281.00" y="837.00" font-size="6.9" text-anchor="middle" fill="#111"><tspan font-style="italic">P</tspan> = 5.08E-05</text>
<line x1="308.50" y1="827.20" x2="322.90" y2="827.20" stroke="#303030" stroke-width="0.85"/>
<text x="315.70" y="824.20" font-size="6.9" text-anchor="middle" fill="#111"><tspan font-style="italic">P</tspan> = 0.0159</text>
<text x="261.30" y="928.30" font-size="7.8" text-anchor="end" fill="#111">sh<tspan font-style="italic">GSR</tspan></text>
<text x="269.50" y="927.00" font-size="6.864" text-anchor="middle" fill="#111" style="stroke-width:0.3px">-</text>
<text x="284.05" y="927.40" font-size="6.864" text-anchor="middle" fill="#111" style="stroke-width:0.3px">+</text>
<text x="308.40" y="927.00" font-size="6.864" text-anchor="middle" fill="#111" style="stroke-width:0.3px">-</text>
<text x="322.80" y="927.40" font-size="6.864" text-anchor="middle" fill="#111" style="stroke-width:0.3px">+</text>
<text x="261.30" y="935.40" font-size="7.8" text-anchor="end" fill="#111">si<tspan font-style="italic">SMIM4</tspan></text>
<text x="269.50" y="934.10" font-size="6.864" text-anchor="middle" fill="#111" style="stroke-width:0.3px">-</text>
<text x="284.05" y="934.10" font-size="6.864" text-anchor="middle" fill="#111" style="stroke-width:0.3px">-</text>
<text x="308.40" y="934.50" font-size="6.864" text-anchor="middle" fill="#111" style="stroke-width:0.3px">+</text>
<text x="322.80" y="934.50" font-size="6.864" text-anchor="middle" fill="#111" style="stroke-width:0.3px">+</text>
<text x="432.00" y="809.30" font-size="8.3" text-anchor="middle" font-style="italic" fill="#111">SMIM4</text>
<line x1="398.90" y1="816.90" x2="398.90" y2="916.40" stroke="#555" stroke-width="1"/>
<line x1="394.90" y1="816.90" x2="398.90" y2="816.90" stroke="#555" stroke-width="1"/>
<text x="393.70" y="819.80" font-size="8.3" text-anchor="end" fill="#111">1.5</text>
<line x1="394.90" y1="850.30" x2="398.90" y2="850.30" stroke="#555" stroke-width="1"/>
<text x="393.70" y="853.20" font-size="8.3" text-anchor="end" fill="#111">1.0</text>
<line x1="394.90" y1="883.60" x2="398.90" y2="883.60" stroke="#555" stroke-width="1"/>
<text x="393.70" y="886.50" font-size="8.3" text-anchor="end" fill="#111">0.5</text>
<line x1="394.90" y1="916.40" x2="398.90" y2="916.40" stroke="#555" stroke-width="1"/>
<text x="393.70" y="919.30" font-size="8.3" text-anchor="end" fill="#111">0.0</text>
<text x="367.76" y="863.20" font-size="9.6" text-anchor="middle" transform="rotate(-90 367.76 863.20)" fill="#111">Relative mRNA level</text>
<text x="378.96" y="864.90" font-size="9.6" text-anchor="middle" transform="rotate(-90 378.96 864.90)" fill="#111">(MIA PaCa-2)</text>
<rect x="403.80" y="850.70" width="9.40" height="65.70" fill="#808080" stroke="#2a2a2a" stroke-width="0.8"/>
<rect x="418.90" y="910.30" width="8.70" height="6.10" fill="#2f5283" stroke="#2a2a2a" stroke-width="0.8"/>
<rect x="442.70" y="850.70" width="9.30" height="65.70" fill="#808080" stroke="#2a2a2a" stroke-width="0.8"/>
<rect x="457.40" y="916.40" width="8.80" height="0.00" fill="#2f5283" stroke="#2a2a2a" stroke-width="0.8"/>
<circle cx="405.50" cy="850.30" r="1.75" fill="#fff" stroke="#333" stroke-width="0.6"/>
<circle cx="408.50" cy="850.30" r="1.75" fill="#fff" stroke="#333" stroke-width="0.6"/>
<circle cx="411.50" cy="850.30" r="1.75" fill="#fff" stroke="#333" stroke-width="0.6"/>
<circle cx="420.00" cy="909.90" r="1.75" fill="#fff" stroke="#333" stroke-width="0.6"/>
<circle cx="423.10" cy="907.80" r="1.75" fill="#fff" stroke="#333" stroke-width="0.6"/>
<circle cx="426.50" cy="908.80" r="1.75" fill="#fff" stroke="#333" stroke-width="0.6"/>
<circle cx="444.50" cy="850.30" r="1.75" fill="#fff" stroke="#333" stroke-width="0.6"/>
<circle cx="447.50" cy="850.30" r="1.75" fill="#fff" stroke="#333" stroke-width="0.6"/>
<circle cx="450.50" cy="850.30" r="1.75" fill="#fff" stroke="#333" stroke-width="0.6"/>
<circle cx="458.40" cy="915.60" r="1.75" fill="#fff" stroke="#333" stroke-width="0.6"/>
<circle cx="461.60" cy="915.00" r="1.75" fill="#fff" stroke="#333" stroke-width="0.6"/>
<circle cx="464.90" cy="915.60" r="1.75" fill="#fff" stroke="#333" stroke-width="0.6"/>
<line x1="398.90" y1="916.40" x2="472.10" y2="916.40" stroke="#555" stroke-width="1"/>
<line x1="409.10" y1="842.20" x2="423.00" y2="842.20" stroke="#303030" stroke-width="0.85"/>
<text x="419.90" y="838.60" font-size="6.9" text-anchor="middle" fill="#111"><tspan font-style="italic">P</tspan> = 4.41E-08</text>
<line x1="446.10" y1="830.40" x2="460.70" y2="830.40" stroke="#303030" stroke-width="0.85"/>
<text x="452.60" y="826.20" font-size="6.9" text-anchor="middle" fill="#111"><tspan font-style="italic">P</tspan> = 8.39E-10</text>
<text x="399.40" y="927.70" font-size="7.8" text-anchor="end" fill="#111">si<tspan font-style="italic">SMIM4</tspan></text>
<text x="408.50" y="926.40" font-size="6.864" text-anchor="middle" fill="#111" style="stroke-width:0.3px">-</text>
<text x="423.25" y="926.80" font-size="6.864" text-anchor="middle" fill="#111" style="stroke-width:0.3px">+</text>
<text x="447.35" y="926.40" font-size="6.864" text-anchor="middle" fill="#111" style="stroke-width:0.3px">-</text>
<text x="461.80" y="926.80" font-size="6.864" text-anchor="middle" fill="#111" style="stroke-width:0.3px">+</text>
<text x="399.40" y="935.50" font-size="7.8" text-anchor="end" fill="#111">sh<tspan font-style="italic">GSR</tspan></text>
<text x="408.50" y="934.20" font-size="6.864" text-anchor="middle" fill="#111" style="stroke-width:0.3px">-</text>
<text x="423.25" y="934.20" font-size="6.864" text-anchor="middle" fill="#111" style="stroke-width:0.3px">-</text>
<text x="447.35" y="934.60" font-size="6.864" text-anchor="middle" fill="#111" style="stroke-width:0.3px">+</text>
<text x="461.80" y="934.60" font-size="6.864" text-anchor="middle" fill="#111" style="stroke-width:0.3px">+</text>
<text x="512.80" y="793.80" font-size="14" font-weight="bold" fill="#000">Q</text>
<line x1="564.80" y1="804.00" x2="564.80" y2="915.80" stroke="#555" stroke-width="1"/>
<line x1="560.80" y1="804.00" x2="564.80" y2="804.00" stroke="#555" stroke-width="1"/>
<text x="559.60" y="806.90" font-size="8.6" text-anchor="end" fill="#111">1.5</text>
<line x1="560.80" y1="841.00" x2="564.80" y2="841.00" stroke="#555" stroke-width="1"/>
<text x="559.60" y="843.90" font-size="8.6" text-anchor="end" fill="#111">1.0</text>
<line x1="560.80" y1="878.40" x2="564.80" y2="878.40" stroke="#555" stroke-width="1"/>
<text x="559.60" y="881.30" font-size="8.6" text-anchor="end" fill="#111">0.5</text>
<line x1="560.80" y1="915.80" x2="564.80" y2="915.80" stroke="#555" stroke-width="1"/>
<text x="559.60" y="918.70" font-size="8.6" text-anchor="end" fill="#111">0.0</text>
<text x="532.92" y="860.00" font-size="9.2" text-anchor="middle" transform="rotate(-90 532.92 860.00)" fill="#111">Relative cell number</text>
<text x="543.72" y="859.20" font-size="9.2" text-anchor="middle" transform="rotate(-90 543.72 859.20)" fill="#111">(MIA PaCa-2)</text>
<rect x="572.00" y="887.90" width="10.00" height="27.90" fill="#6e6e6e" stroke="#2a2a2a" stroke-width="0.8"/>
<rect x="589.00" y="869.80" width="10.60" height="46.00" fill="#b9b9b9" stroke="#2a2a2a" stroke-width="0.8"/>
<rect x="605.70" y="908.40" width="10.60" height="7.40" fill="#2f5283" stroke="#2a2a2a" stroke-width="0.8"/>
<rect x="622.70" y="907.60" width="10.60" height="8.20" fill="#8ac8c6" stroke="#2a2a2a" stroke-width="0.8"/>
<circle cx="572.90" cy="887.50" r="1.75" fill="#fff" stroke="#333" stroke-width="0.6"/>
<circle cx="577.00" cy="886.40" r="1.75" fill="#fff" stroke="#333" stroke-width="0.6"/>
<circle cx="581.00" cy="887.50" r="1.75" fill="#fff" stroke="#333" stroke-width="0.6"/>
<circle cx="590.50" cy="869.90" r="1.75" fill="#fff" stroke="#333" stroke-width="0.6"/>
<circle cx="594.50" cy="868.60" r="1.75" fill="#fff" stroke="#333" stroke-width="0.6"/>
<circle cx="598.60" cy="869.40" r="1.75" fill="#fff" stroke="#333" stroke-width="0.6"/>
<circle cx="606.70" cy="908.00" r="1.75" fill="#fff" stroke="#333" stroke-width="0.6"/>
<circle cx="610.70" cy="908.00" r="1.75" fill="#fff" stroke="#333" stroke-width="0.6"/>
<circle cx="614.80" cy="908.00" r="1.75" fill="#fff" stroke="#333" stroke-width="0.6"/>
<circle cx="624.20" cy="908.00" r="1.75" fill="#fff" stroke="#333" stroke-width="0.6"/>
<circle cx="628.30" cy="906.60" r="1.75" fill="#fff" stroke="#333" stroke-width="0.6"/>
<circle cx="632.30" cy="907.20" r="1.75" fill="#fff" stroke="#333" stroke-width="0.6"/>
<line x1="564.80" y1="915.80" x2="639.00" y2="915.80" stroke="#555" stroke-width="1"/>
<line x1="594.00" y1="832.10" x2="628.30" y2="832.10" stroke="#303030" stroke-width="0.85"/>
<text x="619.50" y="828.40" font-size="7.6" text-anchor="middle" fill="#111"><tspan font-style="italic">P</tspan> = 1.45E-06</text>
<line x1="577.00" y1="847.00" x2="611.30" y2="847.00" stroke="#303030" stroke-width="0.85"/>
<text x="601.70" y="843.50" font-size="7.6" text-anchor="middle" fill="#111"><tspan font-style="italic">P</tspan> = 7.82E-07</text>
<line x1="576.20" y1="862.10" x2="593.70" y2="862.10" stroke="#303030" stroke-width="0.85"/>
<text x="591.10" y="858.90" font-size="7.6" text-anchor="middle" fill="#111"><tspan font-style="italic">P</tspan> = 2.06E-05</text>
<line x1="610.20" y1="902.30" x2="628.30" y2="902.30" stroke="#303030" stroke-width="0.85"/>
<text x="618.80" y="897.70" font-size="7.8" text-anchor="middle" fill="#111">ns</text>
<text x="566.20" y="926.30" font-size="8.1" text-anchor="end" fill="#111">sh<tspan font-style="italic">GSR</tspan></text>
<text x="577.00" y="925.00" font-size="7.128" text-anchor="middle" fill="#111" style="stroke-width:0.3px">-</text>
<text x="594.30" y="925.00" font-size="7.128" text-anchor="middle" fill="#111" style="stroke-width:0.3px">-</text>
<text x="611.00" y="925.40" font-size="7.128" text-anchor="middle" fill="#111" style="stroke-width:0.3px">+</text>
<text x="628.00" y="925.40" font-size="7.128" text-anchor="middle" fill="#111" style="stroke-width:0.3px">+</text>
<text x="566.20" y="934.40" font-size="8.1" text-anchor="end" fill="#111">si<tspan font-style="italic">SMIM4</tspan></text>
<text x="577.00" y="933.10" font-size="7.128" text-anchor="middle" fill="#111" style="stroke-width:0.3px">-</text>
<text x="594.30" y="933.50" font-size="7.128" text-anchor="middle" fill="#111" style="stroke-width:0.3px">+</text>
<text x="611.00" y="933.10" font-size="7.128" text-anchor="middle" fill="#111" style="stroke-width:0.3px">-</text>
<text x="628.00" y="933.50" font-size="7.128" text-anchor="middle" fill="#111" style="stroke-width:0.3px">+</text>
</svg></body></html>
